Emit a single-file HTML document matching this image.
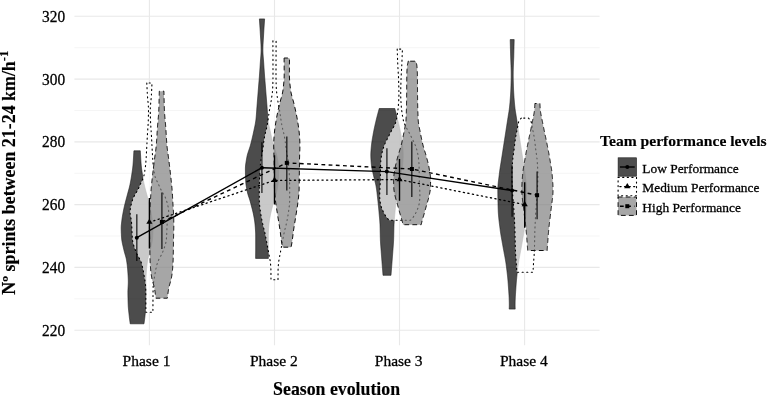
<!DOCTYPE html>
<html><head><meta charset="utf-8"><style>
html,body{margin:0;padding:0;background:#fff;}
body{width:767px;height:397px;overflow:hidden;font-family:"Liberation Serif",serif;}
svg{display:block;will-change:transform;}
</style></head><body>
<svg width="767" height="397" viewBox="0 0 767 397">
<rect width="767" height="397" fill="#fff"/>
<style>text{stroke:#000;stroke-width:0.28px;} text.b{stroke-width:0.15px;}</style>
<line x1="74.4" y1="47.69" x2="599.6" y2="47.69" stroke="#f2f2f2" stroke-width="0.8"/>
<line x1="74.4" y1="110.47" x2="599.6" y2="110.47" stroke="#f2f2f2" stroke-width="0.8"/>
<line x1="74.4" y1="173.25" x2="599.6" y2="173.25" stroke="#f2f2f2" stroke-width="0.8"/>
<line x1="74.4" y1="236.03" x2="599.6" y2="236.03" stroke="#f2f2f2" stroke-width="0.8"/>
<line x1="74.4" y1="298.81" x2="599.6" y2="298.81" stroke="#f2f2f2" stroke-width="0.8"/>
<line x1="74.4" y1="16.30" x2="599.6" y2="16.30" stroke="#e8e8e8" stroke-width="1.1"/>
<line x1="74.4" y1="79.08" x2="599.6" y2="79.08" stroke="#e8e8e8" stroke-width="1.1"/>
<line x1="74.4" y1="141.86" x2="599.6" y2="141.86" stroke="#e8e8e8" stroke-width="1.1"/>
<line x1="74.4" y1="204.64" x2="599.6" y2="204.64" stroke="#e8e8e8" stroke-width="1.1"/>
<line x1="74.4" y1="267.42" x2="599.6" y2="267.42" stroke="#e8e8e8" stroke-width="1.1"/>
<line x1="74.4" y1="330.20" x2="599.6" y2="330.20" stroke="#e8e8e8" stroke-width="1.1"/>
<line x1="149.4" y1="0" x2="149.4" y2="345.3" stroke="#e8e8e8" stroke-width="1.1"/>
<line x1="274.5" y1="0" x2="274.5" y2="345.3" stroke="#e8e8e8" stroke-width="1.1"/>
<line x1="399.5" y1="0" x2="399.5" y2="345.3" stroke="#e8e8e8" stroke-width="1.1"/>
<line x1="524.6" y1="0" x2="524.6" y2="345.3" stroke="#e8e8e8" stroke-width="1.1"/>
<path d="M133.90,150.80 L133.84,151.80 L133.78,152.80 L133.72,153.80 L133.67,154.80 L133.61,155.80 L133.55,156.80 L133.50,157.80 L133.44,158.80 L133.38,159.80 L133.32,160.80 L133.25,161.80 L133.18,162.80 L133.10,163.80 L133.02,164.80 L132.93,165.80 L132.82,166.80 L132.71,167.80 L132.59,168.80 L132.46,169.80 L132.32,170.80 L132.18,171.80 L132.03,172.80 L131.88,173.80 L131.73,174.80 L131.58,175.80 L131.42,176.80 L131.26,177.80 L131.09,178.80 L130.91,179.80 L130.73,180.80 L130.54,181.80 L130.35,182.80 L130.15,183.80 L129.94,184.80 L129.72,185.80 L129.49,186.80 L129.24,187.80 L128.98,188.80 L128.71,189.80 L128.44,190.80 L128.16,191.80 L127.89,192.80 L127.62,193.80 L127.35,194.80 L127.09,195.80 L126.82,196.80 L126.56,197.80 L126.29,198.80 L126.02,199.80 L125.75,200.80 L125.49,201.80 L125.24,202.80 L124.99,203.80 L124.75,204.80 L124.51,205.80 L124.29,206.80 L124.06,207.80 L123.84,208.80 L123.63,209.80 L123.43,210.80 L123.24,211.80 L123.05,212.80 L122.87,213.80 L122.69,214.80 L122.51,215.80 L122.35,216.80 L122.19,217.80 L122.05,218.80 L121.92,219.80 L121.81,220.80 L121.69,221.80 L121.57,222.80 L121.46,223.80 L121.36,224.80 L121.28,225.80 L121.23,226.80 L121.20,227.80 L121.20,228.80 L121.22,229.80 L121.24,230.80 L121.27,231.80 L121.31,232.80 L121.36,233.80 L121.41,234.80 L121.46,235.80 L121.52,236.80 L121.59,237.80 L121.66,238.80 L121.77,239.80 L121.91,240.80 L122.08,241.80 L122.27,242.80 L122.47,243.80 L122.69,244.80 L122.92,245.80 L123.16,246.80 L123.39,247.80 L123.63,248.80 L123.86,249.80 L124.09,250.80 L124.35,251.80 L124.63,252.80 L124.92,253.80 L125.21,254.80 L125.50,255.80 L125.78,256.80 L126.04,257.80 L126.27,258.80 L126.47,259.80 L126.63,260.80 L126.78,261.80 L126.93,262.80 L127.06,263.80 L127.19,264.80 L127.31,265.80 L127.42,266.80 L127.52,267.80 L127.61,268.80 L127.69,269.80 L127.76,270.80 L127.83,271.80 L127.90,272.80 L127.97,273.80 L128.03,274.80 L128.10,275.80 L128.15,276.80 L128.20,277.80 L128.24,278.80 L128.27,279.80 L128.29,280.80 L128.30,281.80 L128.29,282.80 L128.27,283.80 L128.22,284.80 L128.17,285.80 L128.11,286.80 L128.05,287.80 L128.00,288.80 L127.95,289.80 L127.92,290.80 L127.90,291.80 L127.90,292.80 L127.91,293.80 L127.92,294.80 L127.93,295.80 L127.95,296.80 L127.97,297.80 L128.00,298.80 L128.02,299.80 L128.05,300.80 L128.09,301.80 L128.12,302.80 L128.16,303.80 L128.19,304.80 L128.24,305.80 L128.29,306.80 L128.37,307.80 L128.45,308.80 L128.55,309.80 L128.65,310.80 L128.75,311.80 L128.86,312.80 L128.97,313.80 L129.08,314.80 L129.19,315.80 L129.30,316.80 L129.42,317.80 L129.55,318.80 L129.68,319.80 L129.81,320.80 L129.94,321.80 L130.07,322.80 L130.20,323.80 L144.00,323.80 L144.13,322.80 L144.26,321.80 L144.39,320.80 L144.52,319.80 L144.65,318.80 L144.78,317.80 L144.90,316.80 L145.01,315.80 L145.12,314.80 L145.23,313.80 L145.34,312.80 L145.45,311.80 L145.55,310.80 L145.65,309.80 L145.75,308.80 L145.83,307.80 L145.91,306.80 L145.96,305.80 L146.01,304.80 L146.04,303.80 L146.08,302.80 L146.11,301.80 L146.15,300.80 L146.18,299.80 L146.20,298.80 L146.23,297.80 L146.25,296.80 L146.27,295.80 L146.28,294.80 L146.29,293.80 L146.30,292.80 L146.30,291.80 L146.28,290.80 L146.25,289.80 L146.20,288.80 L146.15,287.80 L146.09,286.80 L146.03,285.80 L145.98,284.80 L145.93,283.80 L145.91,282.80 L145.90,281.80 L145.91,280.80 L145.93,279.80 L145.96,278.80 L146.00,277.80 L146.05,276.80 L146.10,275.80 L146.17,274.80 L146.23,273.80 L146.30,272.80 L146.37,271.80 L146.44,270.80 L146.51,269.80 L146.59,268.80 L146.68,267.80 L146.78,266.80 L146.89,265.80 L147.01,264.80 L147.14,263.80 L147.27,262.80 L147.42,261.80 L147.57,260.80 L147.73,259.80 L147.93,258.80 L148.16,257.80 L148.42,256.80 L148.70,255.80 L148.99,254.80 L149.28,253.80 L149.57,252.80 L149.85,251.80 L150.11,250.80 L150.34,249.80 L150.57,248.80 L150.81,247.80 L151.04,246.80 L151.28,245.80 L151.51,244.80 L151.73,243.80 L151.93,242.80 L152.12,241.80 L152.29,240.80 L152.43,239.80 L152.54,238.80 L152.61,237.80 L152.68,236.80 L152.74,235.80 L152.79,234.80 L152.84,233.80 L152.89,232.80 L152.93,231.80 L152.96,230.80 L152.98,229.80 L153.00,228.80 L153.00,227.80 L152.97,226.80 L152.92,225.80 L152.84,224.80 L152.74,223.80 L152.63,222.80 L152.51,221.80 L152.39,220.80 L152.28,219.80 L152.15,218.80 L152.01,217.80 L151.85,216.80 L151.69,215.80 L151.51,214.80 L151.33,213.80 L151.15,212.80 L150.96,211.80 L150.77,210.80 L150.57,209.80 L150.36,208.80 L150.14,207.80 L149.91,206.80 L149.69,205.80 L149.45,204.80 L149.21,203.80 L148.96,202.80 L148.71,201.80 L148.45,200.80 L148.18,199.80 L147.91,198.80 L147.64,197.80 L147.38,196.80 L147.11,195.80 L146.85,194.80 L146.58,193.80 L146.31,192.80 L146.04,191.80 L145.76,190.80 L145.49,189.80 L145.22,188.80 L144.96,187.80 L144.71,186.80 L144.48,185.80 L144.26,184.80 L144.05,183.80 L143.85,182.80 L143.66,181.80 L143.47,180.80 L143.29,179.80 L143.11,178.80 L142.94,177.80 L142.78,176.80 L142.62,175.80 L142.47,174.80 L142.32,173.80 L142.17,172.80 L142.02,171.80 L141.88,170.80 L141.74,169.80 L141.61,168.80 L141.49,167.80 L141.38,166.80 L141.27,165.80 L141.18,164.80 L141.10,163.80 L141.02,162.80 L140.95,161.80 L140.88,160.80 L140.82,159.80 L140.76,158.80 L140.70,157.80 L140.65,156.80 L140.59,155.80 L140.53,154.80 L140.48,153.80 L140.42,152.80 L140.36,151.80 L140.30,150.80 Z" fill="rgba(0,0,0,0.7)" stroke="#1a1a1a" stroke-width="0.6" stroke-linejoin="round"/>
<path d="M146.80,83.00 L146.85,84.00 L146.90,85.00 L146.94,86.00 L146.99,87.00 L147.04,88.00 L147.09,89.00 L147.13,90.00 L147.18,91.00 L147.23,92.00 L147.29,93.00 L147.34,94.00 L147.40,95.00 L147.47,96.00 L147.54,97.00 L147.63,98.00 L147.72,99.00 L147.82,100.00 L147.91,101.00 L148.01,102.00 L148.11,103.00 L148.20,104.00 L148.28,105.00 L148.35,106.00 L148.41,107.00 L148.46,108.00 L148.49,109.00 L148.50,110.00 L148.50,111.00 L148.49,112.00 L148.48,113.00 L148.46,114.00 L148.44,115.00 L148.41,116.00 L148.39,117.00 L148.36,118.00 L148.33,119.00 L148.30,120.00 L148.27,121.00 L148.23,122.00 L148.18,123.00 L148.12,124.00 L148.06,125.00 L148.00,126.00 L147.94,127.00 L147.87,128.00 L147.80,129.00 L147.73,130.00 L147.66,131.00 L147.59,132.00 L147.52,133.00 L147.46,134.00 L147.40,135.00 L147.34,136.00 L147.29,137.00 L147.24,138.00 L147.18,139.00 L147.13,140.00 L147.08,141.00 L147.03,142.00 L146.98,143.00 L146.93,144.00 L146.88,145.00 L146.82,146.00 L146.77,147.00 L146.71,148.00 L146.66,149.00 L146.60,150.00 L146.54,151.00 L146.48,152.00 L146.43,153.00 L146.37,154.00 L146.31,155.00 L146.26,156.00 L146.20,157.00 L146.14,158.00 L146.07,159.00 L146.00,160.00 L145.93,161.00 L145.86,162.00 L145.78,163.00 L145.69,164.00 L145.60,165.00 L145.50,166.00 L145.37,167.00 L145.24,168.00 L145.09,169.00 L144.93,170.00 L144.77,171.00 L144.60,172.00 L144.43,173.00 L144.26,174.00 L144.07,175.00 L143.85,176.00 L143.60,177.00 L143.27,178.00 L142.86,179.00 L142.38,180.00 L141.88,181.00 L141.37,182.00 L140.90,183.00 L140.45,184.00 L140.01,185.00 L139.57,186.00 L139.13,187.00 L138.67,188.00 L138.20,189.00 L137.70,190.00 L137.15,191.00 L136.57,192.00 L135.98,193.00 L135.39,194.00 L134.80,195.00 L134.24,196.00 L133.72,197.00 L133.24,198.00 L132.83,199.00 L132.50,200.00 L132.21,201.00 L131.92,202.00 L131.63,203.00 L131.36,204.00 L131.10,205.00 L130.86,206.00 L130.65,207.00 L130.46,208.00 L130.31,209.00 L130.20,210.00 L130.13,211.00 L130.10,212.00 L130.13,213.00 L130.22,214.00 L130.35,215.00 L130.51,216.00 L130.70,217.00 L130.89,218.00 L131.08,219.00 L131.25,220.00 L131.39,221.00 L131.50,222.00 L131.58,223.00 L131.65,224.00 L131.71,225.00 L131.76,226.00 L131.81,227.00 L131.85,228.00 L131.89,229.00 L131.93,230.00 L131.97,231.00 L132.00,232.00 L132.05,233.00 L132.09,234.00 L132.14,235.00 L132.19,236.00 L132.26,237.00 L132.33,238.00 L132.41,239.00 L132.50,240.00 L132.63,241.00 L132.80,242.00 L133.02,243.00 L133.28,244.00 L133.57,245.00 L133.89,246.00 L134.23,247.00 L134.59,248.00 L134.97,249.00 L135.35,250.00 L135.72,251.00 L136.10,252.00 L136.51,253.00 L136.97,254.00 L137.48,255.00 L138.02,256.00 L138.57,257.00 L139.12,258.00 L139.66,259.00 L140.18,260.00 L140.65,261.00 L141.06,262.00 L141.40,263.00 L141.69,264.00 L141.96,265.00 L142.22,266.00 L142.46,267.00 L142.69,268.00 L142.91,269.00 L143.11,270.00 L143.30,271.00 L143.49,272.00 L143.66,273.00 L143.83,274.00 L144.00,275.00 L144.17,276.00 L144.34,277.00 L144.51,278.00 L144.68,279.00 L144.85,280.00 L145.01,281.00 L145.16,282.00 L145.30,283.00 L145.42,284.00 L145.53,285.00 L145.61,286.00 L145.67,287.00 L145.70,288.00 L145.72,289.00 L145.73,290.00 L145.74,291.00 L145.76,292.00 L145.77,293.00 L145.78,294.00 L145.79,295.00 L145.80,296.00 L145.81,297.00 L145.81,298.00 L145.82,299.00 L145.83,300.00 L145.83,301.00 L145.84,302.00 L145.84,303.00 L145.85,304.00 L145.85,305.00 L145.86,306.00 L145.86,307.00 L145.87,308.00 L145.88,309.00 L145.88,310.00 L145.89,311.00 L145.90,312.00 L145.90,312.30 L152.90,312.30 L152.90,312.00 L152.91,311.00 L152.92,310.00 L152.92,309.00 L152.93,308.00 L152.94,307.00 L152.94,306.00 L152.95,305.00 L152.95,304.00 L152.96,303.00 L152.96,302.00 L152.97,301.00 L152.97,300.00 L152.98,299.00 L152.99,298.00 L152.99,297.00 L153.00,296.00 L153.01,295.00 L153.02,294.00 L153.03,293.00 L153.04,292.00 L153.06,291.00 L153.07,290.00 L153.08,289.00 L153.10,288.00 L153.13,287.00 L153.19,286.00 L153.27,285.00 L153.38,284.00 L153.50,283.00 L153.64,282.00 L153.79,281.00 L153.95,280.00 L154.12,279.00 L154.29,278.00 L154.46,277.00 L154.63,276.00 L154.80,275.00 L154.97,274.00 L155.14,273.00 L155.31,272.00 L155.50,271.00 L155.69,270.00 L155.89,269.00 L156.11,268.00 L156.34,267.00 L156.58,266.00 L156.84,265.00 L157.11,264.00 L157.40,263.00 L157.74,262.00 L158.15,261.00 L158.62,260.00 L159.14,259.00 L159.68,258.00 L160.23,257.00 L160.78,256.00 L161.32,255.00 L161.83,254.00 L162.29,253.00 L162.70,252.00 L163.08,251.00 L163.45,250.00 L163.83,249.00 L164.21,248.00 L164.57,247.00 L164.91,246.00 L165.23,245.00 L165.52,244.00 L165.78,243.00 L166.00,242.00 L166.17,241.00 L166.30,240.00 L166.39,239.00 L166.47,238.00 L166.54,237.00 L166.61,236.00 L166.66,235.00 L166.71,234.00 L166.75,233.00 L166.80,232.00 L166.83,231.00 L166.87,230.00 L166.91,229.00 L166.95,228.00 L166.99,227.00 L167.04,226.00 L167.09,225.00 L167.15,224.00 L167.22,223.00 L167.30,222.00 L167.41,221.00 L167.55,220.00 L167.72,219.00 L167.91,218.00 L168.10,217.00 L168.29,216.00 L168.45,215.00 L168.58,214.00 L168.67,213.00 L168.70,212.00 L168.67,211.00 L168.60,210.00 L168.49,209.00 L168.34,208.00 L168.15,207.00 L167.94,206.00 L167.70,205.00 L167.44,204.00 L167.17,203.00 L166.88,202.00 L166.59,201.00 L166.30,200.00 L165.97,199.00 L165.56,198.00 L165.08,197.00 L164.56,196.00 L164.00,195.00 L163.41,194.00 L162.82,193.00 L162.23,192.00 L161.65,191.00 L161.10,190.00 L160.60,189.00 L160.13,188.00 L159.67,187.00 L159.23,186.00 L158.79,185.00 L158.35,184.00 L157.90,183.00 L157.43,182.00 L156.92,181.00 L156.42,180.00 L155.94,179.00 L155.53,178.00 L155.20,177.00 L154.95,176.00 L154.73,175.00 L154.54,174.00 L154.37,173.00 L154.20,172.00 L154.03,171.00 L153.87,170.00 L153.71,169.00 L153.56,168.00 L153.43,167.00 L153.30,166.00 L153.20,165.00 L153.11,164.00 L153.02,163.00 L152.94,162.00 L152.87,161.00 L152.80,160.00 L152.73,159.00 L152.66,158.00 L152.60,157.00 L152.54,156.00 L152.49,155.00 L152.43,154.00 L152.37,153.00 L152.32,152.00 L152.26,151.00 L152.20,150.00 L152.14,149.00 L152.09,148.00 L152.03,147.00 L151.98,146.00 L151.92,145.00 L151.87,144.00 L151.82,143.00 L151.77,142.00 L151.72,141.00 L151.67,140.00 L151.62,139.00 L151.56,138.00 L151.51,137.00 L151.46,136.00 L151.40,135.00 L151.34,134.00 L151.28,133.00 L151.21,132.00 L151.14,131.00 L151.07,130.00 L151.00,129.00 L150.93,128.00 L150.86,127.00 L150.80,126.00 L150.74,125.00 L150.68,124.00 L150.62,123.00 L150.57,122.00 L150.53,121.00 L150.50,120.00 L150.47,119.00 L150.44,118.00 L150.41,117.00 L150.39,116.00 L150.36,115.00 L150.34,114.00 L150.32,113.00 L150.31,112.00 L150.30,111.00 L150.30,110.00 L150.31,109.00 L150.34,108.00 L150.39,107.00 L150.45,106.00 L150.52,105.00 L150.60,104.00 L150.69,103.00 L150.79,102.00 L150.89,101.00 L150.98,100.00 L151.08,99.00 L151.17,98.00 L151.26,97.00 L151.33,96.00 L151.40,95.00 L151.46,94.00 L151.51,93.00 L151.57,92.00 L151.62,91.00 L151.67,90.00 L151.71,89.00 L151.76,88.00 L151.81,87.00 L151.86,86.00 L151.90,85.00 L151.95,84.00 L152.00,83.00 Z" fill="rgba(255,255,255,0.7)" stroke="#000" stroke-width="1.1" stroke-dasharray="1.1 3.5" stroke-linecap="round" stroke-linejoin="round"/>
<path d="M159.30,91.20 L159.27,92.20 L159.25,93.20 L159.23,94.20 L159.20,95.20 L159.18,96.20 L159.16,97.20 L159.14,98.20 L159.11,99.20 L159.09,100.20 L159.07,101.20 L159.04,102.20 L159.02,103.20 L158.99,104.20 L158.96,105.20 L158.93,106.20 L158.90,107.20 L158.87,108.20 L158.83,109.20 L158.79,110.20 L158.75,111.20 L158.69,112.20 L158.63,113.20 L158.56,114.20 L158.49,115.20 L158.41,116.20 L158.33,117.20 L158.24,118.20 L158.15,119.20 L158.06,120.20 L157.97,121.20 L157.88,122.20 L157.79,123.20 L157.70,124.20 L157.62,125.20 L157.54,126.20 L157.46,127.20 L157.39,128.20 L157.32,129.20 L157.25,130.20 L157.19,131.20 L157.13,132.20 L157.07,133.20 L157.02,134.20 L156.96,135.20 L156.90,136.20 L156.84,137.20 L156.78,138.20 L156.72,139.20 L156.66,140.20 L156.59,141.20 L156.52,142.20 L156.45,143.20 L156.37,144.20 L156.28,145.20 L156.19,146.20 L156.09,147.20 L155.97,148.20 L155.85,149.20 L155.73,150.20 L155.60,151.20 L155.46,152.20 L155.32,153.20 L155.18,154.20 L155.04,155.20 L154.90,156.20 L154.77,157.20 L154.63,158.20 L154.50,159.20 L154.38,160.20 L154.25,161.20 L154.13,162.20 L154.00,163.20 L153.88,164.20 L153.76,165.20 L153.63,166.20 L153.51,167.20 L153.39,168.20 L153.27,169.20 L153.15,170.20 L153.03,171.20 L152.91,172.20 L152.80,173.20 L152.69,174.20 L152.58,175.20 L152.47,176.20 L152.36,177.20 L152.25,178.20 L152.14,179.20 L152.03,180.20 L151.92,181.20 L151.82,182.20 L151.71,183.20 L151.61,184.20 L151.52,185.20 L151.42,186.20 L151.33,187.20 L151.24,188.20 L151.16,189.20 L151.09,190.20 L151.01,191.20 L150.94,192.20 L150.88,193.20 L150.82,194.20 L150.75,195.20 L150.70,196.20 L150.64,197.20 L150.58,198.20 L150.53,199.20 L150.47,200.20 L150.42,201.20 L150.36,202.20 L150.31,203.20 L150.25,204.20 L150.19,205.20 L150.12,206.20 L150.06,207.20 L149.99,208.20 L149.92,209.20 L149.85,210.20 L149.78,211.20 L149.72,212.20 L149.67,213.20 L149.63,214.20 L149.59,215.20 L149.56,216.20 L149.54,217.20 L149.51,218.20 L149.48,219.20 L149.46,220.20 L149.44,221.20 L149.42,222.20 L149.41,223.20 L149.40,224.20 L149.40,225.20 L149.40,226.20 L149.41,227.20 L149.43,228.20 L149.44,229.20 L149.46,230.20 L149.48,231.20 L149.51,232.20 L149.53,233.20 L149.56,234.20 L149.59,235.20 L149.61,236.20 L149.64,237.20 L149.66,238.20 L149.68,239.20 L149.70,240.20 L149.72,241.20 L149.74,242.20 L149.75,243.20 L149.77,244.20 L149.78,245.20 L149.79,246.20 L149.81,247.20 L149.82,248.20 L149.83,249.20 L149.85,250.20 L149.86,251.20 L149.88,252.20 L149.89,253.20 L149.91,254.20 L149.93,255.20 L149.96,256.20 L149.98,257.20 L150.01,258.20 L150.04,259.20 L150.07,260.20 L150.12,261.20 L150.16,262.20 L150.22,263.20 L150.28,264.20 L150.34,265.20 L150.41,266.20 L150.48,267.20 L150.55,268.20 L150.63,269.20 L150.72,270.20 L150.81,271.20 L150.92,272.20 L151.05,273.20 L151.18,274.20 L151.33,275.20 L151.49,276.20 L151.66,277.20 L151.84,278.20 L152.04,279.20 L152.29,280.20 L152.56,281.20 L152.85,282.20 L153.15,283.20 L153.44,284.20 L153.73,285.20 L154.00,286.20 L154.24,287.20 L154.44,288.20 L154.61,289.20 L154.78,290.20 L154.93,291.20 L155.08,292.20 L155.22,293.20 L155.35,294.20 L155.48,295.20 L155.62,296.20 L155.76,297.20 L155.90,298.20 L167.30,298.20 L167.44,297.20 L167.58,296.20 L167.72,295.20 L167.85,294.20 L167.98,293.20 L168.12,292.20 L168.27,291.20 L168.42,290.20 L168.59,289.20 L168.76,288.20 L168.96,287.20 L169.20,286.20 L169.47,285.20 L169.76,284.20 L170.05,283.20 L170.35,282.20 L170.64,281.20 L170.91,280.20 L171.16,279.20 L171.36,278.20 L171.54,277.20 L171.71,276.20 L171.87,275.20 L172.02,274.20 L172.15,273.20 L172.28,272.20 L172.39,271.20 L172.48,270.20 L172.57,269.20 L172.65,268.20 L172.72,267.20 L172.79,266.20 L172.86,265.20 L172.92,264.20 L172.98,263.20 L173.04,262.20 L173.08,261.20 L173.13,260.20 L173.16,259.20 L173.19,258.20 L173.22,257.20 L173.24,256.20 L173.27,255.20 L173.29,254.20 L173.31,253.20 L173.32,252.20 L173.34,251.20 L173.35,250.20 L173.37,249.20 L173.38,248.20 L173.39,247.20 L173.41,246.20 L173.42,245.20 L173.43,244.20 L173.45,243.20 L173.46,242.20 L173.48,241.20 L173.50,240.20 L173.52,239.20 L173.54,238.20 L173.56,237.20 L173.59,236.20 L173.61,235.20 L173.64,234.20 L173.67,233.20 L173.69,232.20 L173.72,231.20 L173.74,230.20 L173.76,229.20 L173.77,228.20 L173.79,227.20 L173.80,226.20 L173.80,225.20 L173.80,224.20 L173.79,223.20 L173.78,222.20 L173.76,221.20 L173.74,220.20 L173.72,219.20 L173.69,218.20 L173.66,217.20 L173.64,216.20 L173.61,215.20 L173.57,214.20 L173.53,213.20 L173.48,212.20 L173.42,211.20 L173.35,210.20 L173.28,209.20 L173.21,208.20 L173.14,207.20 L173.08,206.20 L173.01,205.20 L172.95,204.20 L172.89,203.20 L172.84,202.20 L172.78,201.20 L172.73,200.20 L172.67,199.20 L172.62,198.20 L172.56,197.20 L172.50,196.20 L172.45,195.20 L172.38,194.20 L172.32,193.20 L172.26,192.20 L172.19,191.20 L172.11,190.20 L172.04,189.20 L171.96,188.20 L171.87,187.20 L171.78,186.20 L171.68,185.20 L171.59,184.20 L171.49,183.20 L171.38,182.20 L171.28,181.20 L171.17,180.20 L171.06,179.20 L170.95,178.20 L170.84,177.20 L170.73,176.20 L170.62,175.20 L170.51,174.20 L170.40,173.20 L170.29,172.20 L170.17,171.20 L170.05,170.20 L169.93,169.20 L169.81,168.20 L169.69,167.20 L169.57,166.20 L169.44,165.20 L169.32,164.20 L169.20,163.20 L169.07,162.20 L168.95,161.20 L168.82,160.20 L168.70,159.20 L168.57,158.20 L168.43,157.20 L168.30,156.20 L168.16,155.20 L168.02,154.20 L167.88,153.20 L167.74,152.20 L167.60,151.20 L167.47,150.20 L167.35,149.20 L167.23,148.20 L167.11,147.20 L167.01,146.20 L166.92,145.20 L166.83,144.20 L166.75,143.20 L166.68,142.20 L166.61,141.20 L166.54,140.20 L166.48,139.20 L166.42,138.20 L166.36,137.20 L166.30,136.20 L166.24,135.20 L166.18,134.20 L166.13,133.20 L166.07,132.20 L166.01,131.20 L165.95,130.20 L165.88,129.20 L165.81,128.20 L165.74,127.20 L165.66,126.20 L165.58,125.20 L165.50,124.20 L165.41,123.20 L165.32,122.20 L165.23,121.20 L165.14,120.20 L165.05,119.20 L164.96,118.20 L164.87,117.20 L164.79,116.20 L164.71,115.20 L164.64,114.20 L164.57,113.20 L164.51,112.20 L164.45,111.20 L164.41,110.20 L164.37,109.20 L164.33,108.20 L164.30,107.20 L164.27,106.20 L164.24,105.20 L164.21,104.20 L164.18,103.20 L164.16,102.20 L164.13,101.20 L164.11,100.20 L164.09,99.20 L164.06,98.20 L164.04,97.20 L164.02,96.20 L164.00,95.20 L163.97,94.20 L163.95,93.20 L163.93,92.20 L163.90,91.20 Z" fill="rgba(128,128,128,0.7)" stroke="#111" stroke-width="1" stroke-dasharray="4 4" stroke-linecap="round" stroke-linejoin="round"/>
<path d="M259.40,18.90 L259.46,19.90 L259.53,20.90 L259.60,21.90 L259.66,22.90 L259.73,23.90 L259.80,24.90 L259.86,25.90 L259.93,26.90 L259.99,27.90 L260.06,28.90 L260.12,29.90 L260.18,30.90 L260.24,31.90 L260.29,32.90 L260.35,33.90 L260.41,34.90 L260.47,35.90 L260.53,36.90 L260.60,37.90 L260.66,38.90 L260.72,39.90 L260.78,40.90 L260.84,41.90 L260.89,42.90 L260.94,43.90 L260.99,44.90 L261.02,45.90 L261.06,46.90 L261.08,47.90 L261.09,48.90 L261.10,49.90 L261.09,50.90 L261.07,51.90 L261.03,52.90 L260.98,53.90 L260.92,54.90 L260.85,55.90 L260.77,56.90 L260.69,57.90 L260.61,58.90 L260.53,59.90 L260.45,60.90 L260.38,61.90 L260.31,62.90 L260.24,63.90 L260.18,64.90 L260.11,65.90 L260.05,66.90 L259.99,67.90 L259.92,68.90 L259.85,69.90 L259.79,70.90 L259.72,71.90 L259.65,72.90 L259.58,73.90 L259.51,74.90 L259.43,75.90 L259.36,76.90 L259.28,77.90 L259.20,78.90 L259.12,79.90 L259.04,80.90 L258.95,81.90 L258.87,82.90 L258.79,83.90 L258.71,84.90 L258.63,85.90 L258.55,86.90 L258.47,87.90 L258.39,88.90 L258.31,89.90 L258.23,90.90 L258.15,91.90 L258.07,92.90 L257.99,93.90 L257.91,94.90 L257.83,95.90 L257.75,96.90 L257.67,97.90 L257.59,98.90 L257.51,99.90 L257.43,100.90 L257.35,101.90 L257.27,102.90 L257.19,103.90 L257.11,104.90 L257.03,105.90 L256.96,106.90 L256.88,107.90 L256.81,108.90 L256.75,109.90 L256.68,110.90 L256.61,111.90 L256.54,112.90 L256.46,113.90 L256.38,114.90 L256.30,115.90 L256.22,116.90 L256.12,117.90 L256.02,118.90 L255.91,119.90 L255.79,120.90 L255.64,121.90 L255.48,122.90 L255.31,123.90 L255.12,124.90 L254.92,125.90 L254.71,126.90 L254.49,127.90 L254.27,128.90 L254.06,129.90 L253.84,130.90 L253.62,131.90 L253.41,132.90 L253.19,133.90 L252.97,134.90 L252.74,135.90 L252.51,136.90 L252.28,137.90 L252.04,138.90 L251.80,139.90 L251.55,140.90 L251.30,141.90 L251.05,142.90 L250.79,143.90 L250.53,144.90 L250.25,145.90 L249.94,146.90 L249.62,147.90 L249.28,148.90 L248.94,149.90 L248.60,150.90 L248.26,151.90 L247.94,152.90 L247.64,153.90 L247.36,154.90 L247.12,155.90 L246.92,156.90 L246.74,157.90 L246.56,158.90 L246.39,159.90 L246.21,160.90 L246.05,161.90 L245.90,162.90 L245.76,163.90 L245.64,164.90 L245.54,165.90 L245.47,166.90 L245.42,167.90 L245.40,168.90 L245.40,169.90 L245.41,170.90 L245.42,171.90 L245.44,172.90 L245.46,173.90 L245.48,174.90 L245.51,175.90 L245.54,176.90 L245.58,177.90 L245.61,178.90 L245.65,179.90 L245.70,180.90 L245.75,181.90 L245.83,182.90 L245.94,183.90 L246.06,184.90 L246.21,185.90 L246.37,186.90 L246.55,187.90 L246.74,188.90 L246.94,189.90 L247.15,190.90 L247.36,191.90 L247.58,192.90 L247.82,193.90 L248.11,194.90 L248.43,195.90 L248.77,196.90 L249.12,197.90 L249.46,198.90 L249.77,199.90 L250.06,200.90 L250.34,201.90 L250.62,202.90 L250.89,203.90 L251.16,204.90 L251.42,205.90 L251.67,206.90 L251.93,207.90 L252.19,208.90 L252.44,209.90 L252.69,210.90 L252.93,211.90 L253.16,212.90 L253.38,213.90 L253.58,214.90 L253.77,215.90 L253.96,216.90 L254.14,217.90 L254.31,218.90 L254.48,219.90 L254.63,220.90 L254.77,221.90 L254.89,222.90 L254.99,223.90 L255.08,224.90 L255.16,225.90 L255.25,226.90 L255.33,227.90 L255.40,228.90 L255.47,229.90 L255.54,230.90 L255.59,231.90 L255.64,232.90 L255.67,233.90 L255.69,234.90 L255.70,235.90 L255.70,236.90 L255.70,237.90 L255.70,238.90 L255.70,239.90 L255.70,240.90 L255.70,241.90 L255.70,242.90 L255.70,243.90 L255.70,244.90 L255.70,245.90 L255.70,246.90 L255.70,247.90 L255.70,248.90 L255.69,249.90 L255.69,250.90 L255.68,251.90 L255.67,252.90 L255.65,253.90 L255.64,254.90 L255.63,255.90 L255.62,256.90 L255.61,257.90 L255.60,258.40 L268.40,258.40 L268.39,257.90 L268.38,256.90 L268.37,255.90 L268.36,254.90 L268.35,253.90 L268.33,252.90 L268.32,251.90 L268.31,250.90 L268.31,249.90 L268.30,248.90 L268.30,247.90 L268.30,246.90 L268.30,245.90 L268.30,244.90 L268.30,243.90 L268.30,242.90 L268.30,241.90 L268.30,240.90 L268.30,239.90 L268.30,238.90 L268.30,237.90 L268.30,236.90 L268.30,235.90 L268.31,234.90 L268.33,233.90 L268.36,232.90 L268.41,231.90 L268.46,230.90 L268.53,229.90 L268.60,228.90 L268.67,227.90 L268.75,226.90 L268.84,225.90 L268.92,224.90 L269.01,223.90 L269.11,222.90 L269.23,221.90 L269.37,220.90 L269.52,219.90 L269.69,218.90 L269.86,217.90 L270.04,216.90 L270.23,215.90 L270.42,214.90 L270.62,213.90 L270.84,212.90 L271.07,211.90 L271.31,210.90 L271.56,209.90 L271.81,208.90 L272.07,207.90 L272.33,206.90 L272.58,205.90 L272.84,204.90 L273.11,203.90 L273.38,202.90 L273.66,201.90 L273.94,200.90 L274.23,199.90 L274.54,198.90 L274.88,197.90 L275.23,196.90 L275.57,195.90 L275.89,194.90 L276.18,193.90 L276.42,192.90 L276.64,191.90 L276.85,190.90 L277.06,189.90 L277.26,188.90 L277.45,187.90 L277.63,186.90 L277.79,185.90 L277.94,184.90 L278.06,183.90 L278.17,182.90 L278.25,181.90 L278.30,180.90 L278.35,179.90 L278.39,178.90 L278.42,177.90 L278.46,176.90 L278.49,175.90 L278.52,174.90 L278.54,173.90 L278.56,172.90 L278.58,171.90 L278.59,170.90 L278.60,169.90 L278.60,168.90 L278.58,167.90 L278.53,166.90 L278.46,165.90 L278.36,164.90 L278.24,163.90 L278.10,162.90 L277.95,161.90 L277.79,160.90 L277.61,159.90 L277.44,158.90 L277.26,157.90 L277.08,156.90 L276.88,155.90 L276.64,154.90 L276.36,153.90 L276.06,152.90 L275.74,151.90 L275.40,150.90 L275.06,149.90 L274.72,148.90 L274.38,147.90 L274.06,146.90 L273.75,145.90 L273.47,144.90 L273.21,143.90 L272.95,142.90 L272.70,141.90 L272.45,140.90 L272.20,139.90 L271.96,138.90 L271.72,137.90 L271.49,136.90 L271.26,135.90 L271.03,134.90 L270.81,133.90 L270.59,132.90 L270.38,131.90 L270.16,130.90 L269.94,129.90 L269.73,128.90 L269.51,127.90 L269.29,126.90 L269.08,125.90 L268.88,124.90 L268.69,123.90 L268.52,122.90 L268.36,121.90 L268.21,120.90 L268.09,119.90 L267.98,118.90 L267.88,117.90 L267.78,116.90 L267.70,115.90 L267.62,114.90 L267.54,113.90 L267.46,112.90 L267.39,111.90 L267.32,110.90 L267.25,109.90 L267.19,108.90 L267.12,107.90 L267.04,106.90 L266.97,105.90 L266.89,104.90 L266.81,103.90 L266.73,102.90 L266.65,101.90 L266.57,100.90 L266.49,99.90 L266.41,98.90 L266.33,97.90 L266.25,96.90 L266.17,95.90 L266.09,94.90 L266.01,93.90 L265.93,92.90 L265.85,91.90 L265.77,90.90 L265.69,89.90 L265.61,88.90 L265.53,87.90 L265.45,86.90 L265.37,85.90 L265.29,84.90 L265.21,83.90 L265.13,82.90 L265.05,81.90 L264.96,80.90 L264.88,79.90 L264.80,78.90 L264.72,77.90 L264.64,76.90 L264.57,75.90 L264.49,74.90 L264.42,73.90 L264.35,72.90 L264.28,71.90 L264.21,70.90 L264.15,69.90 L264.08,68.90 L264.01,67.90 L263.95,66.90 L263.89,65.90 L263.82,64.90 L263.76,63.90 L263.69,62.90 L263.62,61.90 L263.55,60.90 L263.47,59.90 L263.39,58.90 L263.31,57.90 L263.23,56.90 L263.15,55.90 L263.08,54.90 L263.02,53.90 L262.97,52.90 L262.93,51.90 L262.91,50.90 L262.90,49.90 L262.91,48.90 L262.92,47.90 L262.94,46.90 L262.98,45.90 L263.01,44.90 L263.06,43.90 L263.11,42.90 L263.16,41.90 L263.22,40.90 L263.28,39.90 L263.34,38.90 L263.40,37.90 L263.47,36.90 L263.53,35.90 L263.59,34.90 L263.65,33.90 L263.71,32.90 L263.76,31.90 L263.82,30.90 L263.88,29.90 L263.94,28.90 L264.01,27.90 L264.07,26.90 L264.14,25.90 L264.20,24.90 L264.27,23.90 L264.34,22.90 L264.40,21.90 L264.47,20.90 L264.54,19.90 L264.60,18.90 Z" fill="rgba(0,0,0,0.7)" stroke="#1a1a1a" stroke-width="0.6" stroke-linejoin="round"/>
<path d="M272.90,40.90 L272.90,41.90 L272.91,42.90 L272.91,43.90 L272.91,44.90 L272.92,45.90 L272.92,46.90 L272.92,47.90 L272.93,48.90 L272.93,49.90 L272.94,50.90 L272.94,51.90 L272.94,52.90 L272.95,53.90 L272.95,54.90 L272.95,55.90 L272.96,56.90 L272.96,57.90 L272.97,58.90 L272.97,59.90 L272.97,60.90 L272.98,61.90 L272.98,62.90 L272.98,63.90 L272.99,64.90 L272.99,65.90 L272.99,66.90 L272.99,67.90 L272.99,68.90 L273.00,69.90 L273.00,70.90 L273.00,71.90 L273.00,72.90 L273.00,73.90 L273.00,74.90 L273.00,75.90 L272.99,76.90 L272.98,77.90 L272.97,78.90 L272.95,79.90 L272.93,80.90 L272.90,81.90 L272.88,82.90 L272.85,83.90 L272.81,84.90 L272.78,85.90 L272.74,86.90 L272.70,87.90 L272.66,88.90 L272.59,89.90 L272.51,90.90 L272.41,91.90 L272.29,92.90 L272.17,93.90 L272.04,94.90 L271.90,95.90 L271.75,96.90 L271.61,97.90 L271.46,98.90 L271.31,99.90 L271.16,100.90 L271.00,101.90 L270.82,102.90 L270.64,103.90 L270.45,104.90 L270.26,105.90 L270.06,106.90 L269.87,107.90 L269.69,108.90 L269.52,109.90 L269.35,110.90 L269.20,111.90 L269.04,112.90 L268.90,113.90 L268.75,114.90 L268.61,115.90 L268.47,116.90 L268.32,117.90 L268.18,118.90 L268.03,119.90 L267.88,120.90 L267.73,121.90 L267.56,122.90 L267.40,123.90 L267.22,124.90 L267.03,125.90 L266.82,126.90 L266.60,127.90 L266.36,128.90 L266.12,129.90 L265.87,130.90 L265.62,131.90 L265.38,132.90 L265.14,133.90 L264.91,134.90 L264.70,135.90 L264.50,136.90 L264.32,137.90 L264.16,138.90 L264.01,139.90 L263.87,140.90 L263.74,141.90 L263.61,142.90 L263.49,143.90 L263.37,144.90 L263.25,145.90 L263.13,146.90 L263.00,147.90 L262.86,148.90 L262.72,149.90 L262.55,150.90 L262.37,151.90 L262.18,152.90 L261.97,153.90 L261.77,154.90 L261.57,155.90 L261.38,156.90 L261.20,157.90 L261.04,158.90 L260.91,159.90 L260.80,160.90 L260.69,161.90 L260.59,162.90 L260.49,163.90 L260.39,164.90 L260.30,165.90 L260.21,166.90 L260.13,167.90 L260.05,168.90 L259.98,169.90 L259.91,170.90 L259.85,171.90 L259.80,172.90 L259.75,173.90 L259.70,174.90 L259.66,175.90 L259.62,176.90 L259.59,177.90 L259.55,178.90 L259.51,179.90 L259.48,180.90 L259.44,181.90 L259.41,182.90 L259.39,183.90 L259.36,184.90 L259.34,185.90 L259.32,186.90 L259.31,187.90 L259.30,188.90 L259.30,189.90 L259.30,190.90 L259.30,191.90 L259.30,192.90 L259.30,193.90 L259.30,194.90 L259.30,195.90 L259.30,196.90 L259.30,197.90 L259.30,198.90 L259.30,199.90 L259.31,200.90 L259.35,201.90 L259.41,202.90 L259.49,203.90 L259.58,204.90 L259.69,205.90 L259.82,206.90 L259.95,207.90 L260.08,208.90 L260.22,209.90 L260.35,210.90 L260.49,211.90 L260.62,212.90 L260.77,213.90 L260.93,214.90 L261.10,215.90 L261.27,216.90 L261.46,217.90 L261.65,218.90 L261.85,219.90 L262.05,220.90 L262.26,221.90 L262.47,222.90 L262.68,223.90 L262.90,224.90 L263.13,225.90 L263.38,226.90 L263.64,227.90 L263.90,228.90 L264.16,229.90 L264.41,230.90 L264.65,231.90 L264.88,232.90 L265.09,233.90 L265.30,234.90 L265.50,235.90 L265.69,236.90 L265.88,237.90 L266.07,238.90 L266.26,239.90 L266.44,240.90 L266.62,241.90 L266.81,242.90 L266.99,243.90 L267.18,244.90 L267.37,245.90 L267.56,246.90 L267.75,247.90 L267.95,248.90 L268.14,249.90 L268.33,250.90 L268.51,251.90 L268.70,252.90 L268.88,253.90 L269.07,254.90 L269.26,255.90 L269.46,256.90 L269.65,257.90 L269.83,258.90 L270.00,259.90 L270.16,260.90 L270.29,261.90 L270.40,262.90 L270.52,263.90 L270.62,264.90 L270.72,265.90 L270.80,266.90 L270.86,267.90 L270.90,268.90 L270.91,269.90 L270.93,270.90 L270.94,271.90 L270.95,272.90 L270.96,273.90 L270.96,274.90 L270.97,275.90 L270.98,276.90 L270.98,277.90 L270.99,278.90 L271.00,279.80 L278.00,279.80 L278.01,278.90 L278.02,277.90 L278.02,276.90 L278.03,275.90 L278.04,274.90 L278.04,273.90 L278.05,272.90 L278.06,271.90 L278.07,270.90 L278.09,269.90 L278.10,268.90 L278.14,267.90 L278.20,266.90 L278.28,265.90 L278.38,264.90 L278.48,263.90 L278.60,262.90 L278.71,261.90 L278.84,260.90 L279.00,259.90 L279.17,258.90 L279.35,257.90 L279.54,256.90 L279.74,255.90 L279.93,254.90 L280.12,253.90 L280.30,252.90 L280.49,251.90 L280.67,250.90 L280.86,249.90 L281.05,248.90 L281.25,247.90 L281.44,246.90 L281.63,245.90 L281.82,244.90 L282.01,243.90 L282.19,242.90 L282.38,241.90 L282.56,240.90 L282.74,239.90 L282.93,238.90 L283.12,237.90 L283.31,236.90 L283.50,235.90 L283.70,234.90 L283.91,233.90 L284.12,232.90 L284.35,231.90 L284.59,230.90 L284.84,229.90 L285.10,228.90 L285.36,227.90 L285.62,226.90 L285.87,225.90 L286.10,224.90 L286.32,223.90 L286.53,222.90 L286.74,221.90 L286.95,220.90 L287.15,219.90 L287.35,218.90 L287.54,217.90 L287.73,216.90 L287.90,215.90 L288.07,214.90 L288.23,213.90 L288.38,212.90 L288.51,211.90 L288.65,210.90 L288.78,209.90 L288.92,208.90 L289.05,207.90 L289.18,206.90 L289.31,205.90 L289.42,204.90 L289.51,203.90 L289.59,202.90 L289.65,201.90 L289.69,200.90 L289.70,199.90 L289.70,198.90 L289.70,197.90 L289.70,196.90 L289.70,195.90 L289.70,194.90 L289.70,193.90 L289.70,192.90 L289.70,191.90 L289.70,190.90 L289.70,189.90 L289.70,188.90 L289.69,187.90 L289.68,186.90 L289.66,185.90 L289.64,184.90 L289.61,183.90 L289.59,182.90 L289.56,181.90 L289.52,180.90 L289.49,179.90 L289.45,178.90 L289.41,177.90 L289.38,176.90 L289.34,175.90 L289.30,174.90 L289.25,173.90 L289.20,172.90 L289.15,171.90 L289.09,170.90 L289.02,169.90 L288.95,168.90 L288.87,167.90 L288.79,166.90 L288.70,165.90 L288.61,164.90 L288.51,163.90 L288.41,162.90 L288.31,161.90 L288.20,160.90 L288.09,159.90 L287.96,158.90 L287.80,157.90 L287.62,156.90 L287.43,155.90 L287.23,154.90 L287.03,153.90 L286.82,152.90 L286.63,151.90 L286.45,150.90 L286.28,149.90 L286.14,148.90 L286.00,147.90 L285.87,146.90 L285.75,145.90 L285.63,144.90 L285.51,143.90 L285.39,142.90 L285.26,141.90 L285.13,140.90 L284.99,139.90 L284.84,138.90 L284.68,137.90 L284.50,136.90 L284.30,135.90 L284.09,134.90 L283.86,133.90 L283.62,132.90 L283.38,131.90 L283.13,130.90 L282.88,129.90 L282.64,128.90 L282.40,127.90 L282.18,126.90 L281.97,125.90 L281.78,124.90 L281.60,123.90 L281.44,122.90 L281.27,121.90 L281.12,120.90 L280.97,119.90 L280.82,118.90 L280.68,117.90 L280.53,116.90 L280.39,115.90 L280.25,114.90 L280.10,113.90 L279.96,112.90 L279.80,111.90 L279.65,110.90 L279.48,109.90 L279.31,108.90 L279.13,107.90 L278.94,106.90 L278.74,105.90 L278.55,104.90 L278.36,103.90 L278.18,102.90 L278.00,101.90 L277.84,100.90 L277.69,99.90 L277.54,98.90 L277.39,97.90 L277.25,96.90 L277.10,95.90 L276.96,94.90 L276.83,93.90 L276.71,92.90 L276.59,91.90 L276.49,90.90 L276.41,89.90 L276.34,88.90 L276.30,87.90 L276.26,86.90 L276.22,85.90 L276.19,84.90 L276.15,83.90 L276.12,82.90 L276.10,81.90 L276.07,80.90 L276.05,79.90 L276.03,78.90 L276.02,77.90 L276.01,76.90 L276.00,75.90 L276.00,74.90 L276.00,73.90 L276.00,72.90 L276.00,71.90 L276.00,70.90 L276.00,69.90 L276.01,68.90 L276.01,67.90 L276.01,66.90 L276.01,65.90 L276.01,64.90 L276.02,63.90 L276.02,62.90 L276.02,61.90 L276.03,60.90 L276.03,59.90 L276.03,58.90 L276.04,57.90 L276.04,56.90 L276.05,55.90 L276.05,54.90 L276.05,53.90 L276.06,52.90 L276.06,51.90 L276.06,50.90 L276.07,49.90 L276.07,48.90 L276.08,47.90 L276.08,46.90 L276.08,45.90 L276.09,44.90 L276.09,43.90 L276.09,42.90 L276.10,41.90 L276.10,40.90 Z" fill="rgba(255,255,255,0.7)" stroke="#000" stroke-width="1.1" stroke-dasharray="1.1 3.5" stroke-linecap="round" stroke-linejoin="round"/>
<path d="M284.10,58.00 L284.11,59.00 L284.11,60.00 L284.12,61.00 L284.13,62.00 L284.14,63.00 L284.14,64.00 L284.15,65.00 L284.16,66.00 L284.17,67.00 L284.17,68.00 L284.18,69.00 L284.19,70.00 L284.19,71.00 L284.19,72.00 L284.20,73.00 L284.20,74.00 L284.20,75.00 L284.19,76.00 L284.17,77.00 L284.13,78.00 L284.08,79.00 L284.02,80.00 L283.95,81.00 L283.87,82.00 L283.78,83.00 L283.68,84.00 L283.58,85.00 L283.47,86.00 L283.36,87.00 L283.24,88.00 L283.12,89.00 L283.00,90.00 L282.86,91.00 L282.69,92.00 L282.49,93.00 L282.27,94.00 L282.02,95.00 L281.76,96.00 L281.49,97.00 L281.20,98.00 L280.91,99.00 L280.62,100.00 L280.34,101.00 L280.06,102.00 L279.79,103.00 L279.54,104.00 L279.30,105.00 L279.07,106.00 L278.85,107.00 L278.62,108.00 L278.40,109.00 L278.18,110.00 L277.96,111.00 L277.74,112.00 L277.53,113.00 L277.32,114.00 L277.11,115.00 L276.92,116.00 L276.73,117.00 L276.54,118.00 L276.37,119.00 L276.20,120.00 L276.04,121.00 L275.88,122.00 L275.71,123.00 L275.56,124.00 L275.40,125.00 L275.25,126.00 L275.10,127.00 L274.96,128.00 L274.82,129.00 L274.70,130.00 L274.58,131.00 L274.47,132.00 L274.37,133.00 L274.28,134.00 L274.20,135.00 L274.13,136.00 L274.06,137.00 L273.99,138.00 L273.92,139.00 L273.86,140.00 L273.81,141.00 L273.76,142.00 L273.73,143.00 L273.71,144.00 L273.70,145.00 L273.70,146.00 L273.72,147.00 L273.73,148.00 L273.76,149.00 L273.78,150.00 L273.82,151.00 L273.85,152.00 L273.88,153.00 L273.92,154.00 L273.96,155.00 L273.99,156.00 L274.02,157.00 L274.05,158.00 L274.08,159.00 L274.10,160.00 L274.12,161.00 L274.13,162.00 L274.15,163.00 L274.16,164.00 L274.18,165.00 L274.19,166.00 L274.20,167.00 L274.21,168.00 L274.23,169.00 L274.24,170.00 L274.25,171.00 L274.26,172.00 L274.27,173.00 L274.29,174.00 L274.30,175.00 L274.31,176.00 L274.32,177.00 L274.33,178.00 L274.34,179.00 L274.35,180.00 L274.36,181.00 L274.37,182.00 L274.38,183.00 L274.40,184.00 L274.41,185.00 L274.42,186.00 L274.44,187.00 L274.46,188.00 L274.48,189.00 L274.50,190.00 L274.54,191.00 L274.59,192.00 L274.66,193.00 L274.75,194.00 L274.84,195.00 L274.95,196.00 L275.06,197.00 L275.17,198.00 L275.29,199.00 L275.40,200.00 L275.51,201.00 L275.64,202.00 L275.77,203.00 L275.90,204.00 L276.04,205.00 L276.19,206.00 L276.34,207.00 L276.50,208.00 L276.65,209.00 L276.81,210.00 L276.97,211.00 L277.13,212.00 L277.29,213.00 L277.45,214.00 L277.60,215.00 L277.75,216.00 L277.91,217.00 L278.07,218.00 L278.24,219.00 L278.40,220.00 L278.56,221.00 L278.73,222.00 L278.89,223.00 L279.06,224.00 L279.22,225.00 L279.38,226.00 L279.54,227.00 L279.70,228.00 L279.85,229.00 L280.00,230.00 L280.14,231.00 L280.28,232.00 L280.41,233.00 L280.53,234.00 L280.65,235.00 L280.78,236.00 L280.90,237.00 L281.02,238.00 L281.15,239.00 L281.28,240.00 L281.42,241.00 L281.57,242.00 L281.73,243.00 L281.90,244.00 L282.10,245.00 L282.33,246.00 L282.56,247.00 L282.60,247.20 L291.00,247.20 L291.04,247.00 L291.27,246.00 L291.50,245.00 L291.70,244.00 L291.87,243.00 L292.03,242.00 L292.18,241.00 L292.32,240.00 L292.45,239.00 L292.58,238.00 L292.70,237.00 L292.82,236.00 L292.95,235.00 L293.07,234.00 L293.19,233.00 L293.32,232.00 L293.46,231.00 L293.60,230.00 L293.75,229.00 L293.90,228.00 L294.06,227.00 L294.22,226.00 L294.38,225.00 L294.54,224.00 L294.71,223.00 L294.87,222.00 L295.04,221.00 L295.20,220.00 L295.36,219.00 L295.53,218.00 L295.69,217.00 L295.85,216.00 L296.00,215.00 L296.15,214.00 L296.31,213.00 L296.47,212.00 L296.63,211.00 L296.79,210.00 L296.95,209.00 L297.10,208.00 L297.26,207.00 L297.41,206.00 L297.56,205.00 L297.70,204.00 L297.83,203.00 L297.96,202.00 L298.09,201.00 L298.20,200.00 L298.31,199.00 L298.43,198.00 L298.54,197.00 L298.65,196.00 L298.76,195.00 L298.85,194.00 L298.94,193.00 L299.01,192.00 L299.06,191.00 L299.10,190.00 L299.12,189.00 L299.14,188.00 L299.16,187.00 L299.18,186.00 L299.19,185.00 L299.20,184.00 L299.22,183.00 L299.23,182.00 L299.24,181.00 L299.25,180.00 L299.26,179.00 L299.27,178.00 L299.28,177.00 L299.29,176.00 L299.30,175.00 L299.31,174.00 L299.33,173.00 L299.34,172.00 L299.35,171.00 L299.36,170.00 L299.37,169.00 L299.39,168.00 L299.40,167.00 L299.41,166.00 L299.42,165.00 L299.44,164.00 L299.45,163.00 L299.47,162.00 L299.48,161.00 L299.50,160.00 L299.52,159.00 L299.55,158.00 L299.58,157.00 L299.61,156.00 L299.64,155.00 L299.68,154.00 L299.72,153.00 L299.75,152.00 L299.78,151.00 L299.82,150.00 L299.84,149.00 L299.87,148.00 L299.88,147.00 L299.90,146.00 L299.90,145.00 L299.89,144.00 L299.87,143.00 L299.84,142.00 L299.79,141.00 L299.74,140.00 L299.68,139.00 L299.61,138.00 L299.54,137.00 L299.47,136.00 L299.40,135.00 L299.32,134.00 L299.23,133.00 L299.13,132.00 L299.02,131.00 L298.90,130.00 L298.78,129.00 L298.64,128.00 L298.50,127.00 L298.35,126.00 L298.20,125.00 L298.04,124.00 L297.89,123.00 L297.72,122.00 L297.56,121.00 L297.40,120.00 L297.23,119.00 L297.06,118.00 L296.87,117.00 L296.68,116.00 L296.49,115.00 L296.28,114.00 L296.07,113.00 L295.86,112.00 L295.64,111.00 L295.42,110.00 L295.20,109.00 L294.98,108.00 L294.75,107.00 L294.53,106.00 L294.30,105.00 L294.06,104.00 L293.81,103.00 L293.54,102.00 L293.26,101.00 L292.98,100.00 L292.69,99.00 L292.40,98.00 L292.11,97.00 L291.84,96.00 L291.58,95.00 L291.33,94.00 L291.11,93.00 L290.91,92.00 L290.74,91.00 L290.60,90.00 L290.48,89.00 L290.36,88.00 L290.24,87.00 L290.13,86.00 L290.02,85.00 L289.92,84.00 L289.82,83.00 L289.73,82.00 L289.65,81.00 L289.58,80.00 L289.52,79.00 L289.47,78.00 L289.43,77.00 L289.41,76.00 L289.40,75.00 L289.40,74.00 L289.40,73.00 L289.41,72.00 L289.41,71.00 L289.41,70.00 L289.42,69.00 L289.43,68.00 L289.43,67.00 L289.44,66.00 L289.45,65.00 L289.46,64.00 L289.46,63.00 L289.47,62.00 L289.48,61.00 L289.49,60.00 L289.49,59.00 L289.50,58.00 Z" fill="rgba(128,128,128,0.7)" stroke="#111" stroke-width="1" stroke-dasharray="4 4" stroke-linecap="round" stroke-linejoin="round"/>
<path d="M379.20,108.50 L378.94,109.50 L378.67,110.50 L378.40,111.50 L378.13,112.50 L377.87,113.50 L377.60,114.50 L377.33,115.50 L377.07,116.50 L376.81,117.50 L376.56,118.50 L376.32,119.50 L376.08,120.50 L375.85,121.50 L375.61,122.50 L375.38,123.50 L375.15,124.50 L374.93,125.50 L374.70,126.50 L374.49,127.50 L374.27,128.50 L374.06,129.50 L373.86,130.50 L373.66,131.50 L373.47,132.50 L373.29,133.50 L373.11,134.50 L372.94,135.50 L372.76,136.50 L372.59,137.50 L372.42,138.50 L372.25,139.50 L372.09,140.50 L371.94,141.50 L371.80,142.50 L371.67,143.50 L371.55,144.50 L371.45,145.50 L371.35,146.50 L371.26,147.50 L371.17,148.50 L371.08,149.50 L371.00,150.50 L370.93,151.50 L370.87,152.50 L370.83,153.50 L370.80,154.50 L370.80,155.50 L370.82,156.50 L370.85,157.50 L370.90,158.50 L370.95,159.50 L371.02,160.50 L371.09,161.50 L371.18,162.50 L371.26,163.50 L371.35,164.50 L371.45,165.50 L371.58,166.50 L371.74,167.50 L371.93,168.50 L372.14,169.50 L372.36,170.50 L372.59,171.50 L372.83,172.50 L373.06,173.50 L373.29,174.50 L373.51,175.50 L373.74,176.50 L373.98,177.50 L374.24,178.50 L374.49,179.50 L374.75,180.50 L375.01,181.50 L375.26,182.50 L375.50,183.50 L375.72,184.50 L375.93,185.50 L376.12,186.50 L376.28,187.50 L376.43,188.50 L376.58,189.50 L376.71,190.50 L376.84,191.50 L376.97,192.50 L377.08,193.50 L377.20,194.50 L377.31,195.50 L377.42,196.50 L377.53,197.50 L377.64,198.50 L377.75,199.50 L377.85,200.50 L377.96,201.50 L378.07,202.50 L378.18,203.50 L378.28,204.50 L378.38,205.50 L378.48,206.50 L378.58,207.50 L378.68,208.50 L378.77,209.50 L378.87,210.50 L378.96,211.50 L379.04,212.50 L379.13,213.50 L379.22,214.50 L379.31,215.50 L379.40,216.50 L379.49,217.50 L379.58,218.50 L379.66,219.50 L379.74,220.50 L379.81,221.50 L379.87,222.50 L379.93,223.50 L379.98,224.50 L380.02,225.50 L380.05,226.50 L380.09,227.50 L380.11,228.50 L380.14,229.50 L380.16,230.50 L380.18,231.50 L380.20,232.50 L380.22,233.50 L380.24,234.50 L380.27,235.50 L380.29,236.50 L380.32,237.50 L380.35,238.50 L380.38,239.50 L380.42,240.50 L380.47,241.50 L380.52,242.50 L380.58,243.50 L380.65,244.50 L380.72,245.50 L380.80,246.50 L380.87,247.50 L380.95,248.50 L381.03,249.50 L381.11,250.50 L381.19,251.50 L381.26,252.50 L381.34,253.50 L381.41,254.50 L381.48,255.50 L381.56,256.50 L381.63,257.50 L381.71,258.50 L381.78,259.50 L381.86,260.50 L381.94,261.50 L382.01,262.50 L382.09,263.50 L382.17,264.50 L382.24,265.50 L382.32,266.50 L382.40,267.50 L382.48,268.50 L382.55,269.50 L382.63,270.50 L382.71,271.50 L382.79,272.50 L382.86,273.50 L382.94,274.50 L383.00,275.30 L391.00,275.30 L391.06,274.50 L391.14,273.50 L391.21,272.50 L391.29,271.50 L391.37,270.50 L391.45,269.50 L391.52,268.50 L391.60,267.50 L391.68,266.50 L391.76,265.50 L391.83,264.50 L391.91,263.50 L391.99,262.50 L392.06,261.50 L392.14,260.50 L392.22,259.50 L392.29,258.50 L392.37,257.50 L392.44,256.50 L392.52,255.50 L392.59,254.50 L392.66,253.50 L392.74,252.50 L392.81,251.50 L392.89,250.50 L392.97,249.50 L393.05,248.50 L393.13,247.50 L393.20,246.50 L393.28,245.50 L393.35,244.50 L393.42,243.50 L393.48,242.50 L393.53,241.50 L393.58,240.50 L393.62,239.50 L393.65,238.50 L393.68,237.50 L393.71,236.50 L393.73,235.50 L393.76,234.50 L393.78,233.50 L393.80,232.50 L393.82,231.50 L393.84,230.50 L393.86,229.50 L393.89,228.50 L393.91,227.50 L393.95,226.50 L393.98,225.50 L394.02,224.50 L394.07,223.50 L394.13,222.50 L394.19,221.50 L394.26,220.50 L394.34,219.50 L394.42,218.50 L394.51,217.50 L394.60,216.50 L394.69,215.50 L394.78,214.50 L394.87,213.50 L394.96,212.50 L395.04,211.50 L395.13,210.50 L395.23,209.50 L395.32,208.50 L395.42,207.50 L395.52,206.50 L395.62,205.50 L395.72,204.50 L395.82,203.50 L395.93,202.50 L396.04,201.50 L396.15,200.50 L396.25,199.50 L396.36,198.50 L396.47,197.50 L396.58,196.50 L396.69,195.50 L396.80,194.50 L396.92,193.50 L397.03,192.50 L397.16,191.50 L397.29,190.50 L397.42,189.50 L397.57,188.50 L397.72,187.50 L397.88,186.50 L398.07,185.50 L398.28,184.50 L398.50,183.50 L398.74,182.50 L398.99,181.50 L399.25,180.50 L399.51,179.50 L399.76,178.50 L400.02,177.50 L400.26,176.50 L400.49,175.50 L400.71,174.50 L400.94,173.50 L401.17,172.50 L401.41,171.50 L401.64,170.50 L401.86,169.50 L402.07,168.50 L402.26,167.50 L402.42,166.50 L402.55,165.50 L402.65,164.50 L402.74,163.50 L402.82,162.50 L402.91,161.50 L402.98,160.50 L403.05,159.50 L403.10,158.50 L403.15,157.50 L403.18,156.50 L403.20,155.50 L403.20,154.50 L403.17,153.50 L403.13,152.50 L403.07,151.50 L403.00,150.50 L402.92,149.50 L402.83,148.50 L402.74,147.50 L402.65,146.50 L402.55,145.50 L402.45,144.50 L402.33,143.50 L402.20,142.50 L402.06,141.50 L401.91,140.50 L401.75,139.50 L401.58,138.50 L401.41,137.50 L401.24,136.50 L401.06,135.50 L400.89,134.50 L400.71,133.50 L400.53,132.50 L400.34,131.50 L400.14,130.50 L399.94,129.50 L399.73,128.50 L399.51,127.50 L399.30,126.50 L399.07,125.50 L398.85,124.50 L398.62,123.50 L398.39,122.50 L398.15,121.50 L397.92,120.50 L397.68,119.50 L397.44,118.50 L397.19,117.50 L396.93,116.50 L396.67,115.50 L396.40,114.50 L396.13,113.50 L395.87,112.50 L395.60,111.50 L395.33,110.50 L395.06,109.50 L394.80,108.50 Z" fill="rgba(0,0,0,0.7)" stroke="#1a1a1a" stroke-width="0.6" stroke-linejoin="round"/>
<path d="M397.20,49.10 L397.24,50.10 L397.27,51.10 L397.31,52.10 L397.35,53.10 L397.38,54.10 L397.42,55.10 L397.45,56.10 L397.49,57.10 L397.53,58.10 L397.56,59.10 L397.60,60.10 L397.64,61.10 L397.68,62.10 L397.72,63.10 L397.76,64.10 L397.80,65.10 L397.85,66.10 L397.90,67.10 L397.96,68.10 L398.02,69.10 L398.08,70.10 L398.14,71.10 L398.20,72.10 L398.27,73.10 L398.33,74.10 L398.38,75.10 L398.44,76.10 L398.49,77.10 L398.53,78.10 L398.57,79.10 L398.60,80.10 L398.63,81.10 L398.66,82.10 L398.69,83.10 L398.72,84.10 L398.75,85.10 L398.77,86.10 L398.80,87.10 L398.82,88.10 L398.84,89.10 L398.86,90.10 L398.87,91.10 L398.88,92.10 L398.89,93.10 L398.90,94.10 L398.90,95.10 L398.89,96.10 L398.87,97.10 L398.83,98.10 L398.78,99.10 L398.73,100.10 L398.67,101.10 L398.60,102.10 L398.53,103.10 L398.46,104.10 L398.39,105.10 L398.32,106.10 L398.23,107.10 L398.14,108.10 L398.04,109.10 L397.93,110.10 L397.81,111.10 L397.69,112.10 L397.55,113.10 L397.40,114.10 L397.24,115.10 L397.06,116.10 L396.88,117.10 L396.70,118.10 L396.50,119.10 L396.29,120.10 L396.05,121.10 L395.77,122.10 L395.42,123.10 L395.01,124.10 L394.54,125.10 L394.05,126.10 L393.55,127.10 L393.02,128.10 L392.46,129.10 L391.87,130.10 L391.29,131.10 L390.75,132.10 L390.23,133.10 L389.72,134.10 L389.23,135.10 L388.74,136.10 L388.25,137.10 L387.75,138.10 L387.23,139.10 L386.69,140.10 L386.16,141.10 L385.65,142.10 L385.17,143.10 L384.76,144.10 L384.38,145.10 L384.02,146.10 L383.66,147.10 L383.32,148.10 L383.00,149.10 L382.71,150.10 L382.43,151.10 L382.19,152.10 L381.97,153.10 L381.78,154.10 L381.61,155.10 L381.45,156.10 L381.30,157.10 L381.15,158.10 L381.02,159.10 L380.90,160.10 L380.79,161.10 L380.71,162.10 L380.64,163.10 L380.60,164.10 L380.56,165.10 L380.54,166.10 L380.51,167.10 L380.49,168.10 L380.47,169.10 L380.46,170.10 L380.44,171.10 L380.43,172.10 L380.42,173.10 L380.40,174.10 L380.39,175.10 L380.38,176.10 L380.36,177.10 L380.34,178.10 L380.32,179.10 L380.30,180.10 L380.27,181.10 L380.23,182.10 L380.19,183.10 L380.15,184.10 L380.10,185.10 L380.05,186.10 L380.00,187.10 L379.95,188.10 L379.90,189.10 L379.85,190.10 L379.81,191.10 L379.77,192.10 L379.74,193.10 L379.72,194.10 L379.70,195.10 L379.70,196.10 L379.72,197.10 L379.77,198.10 L379.85,199.10 L379.95,200.10 L380.08,201.10 L380.21,202.10 L380.36,203.10 L380.52,204.10 L380.72,205.10 L380.99,206.10 L381.32,207.10 L381.69,208.10 L382.09,209.10 L382.51,210.10 L382.94,211.10 L383.40,212.10 L383.91,213.10 L384.46,214.10 L385.06,215.10 L385.69,216.10 L386.37,217.10 L387.16,218.10 L388.04,219.10 L388.93,220.10 L389.10,220.30 L410.50,220.30 L410.67,220.10 L411.56,219.10 L412.44,218.10 L413.23,217.10 L413.91,216.10 L414.54,215.10 L415.14,214.10 L415.69,213.10 L416.20,212.10 L416.66,211.10 L417.09,210.10 L417.51,209.10 L417.91,208.10 L418.28,207.10 L418.61,206.10 L418.88,205.10 L419.08,204.10 L419.24,203.10 L419.39,202.10 L419.52,201.10 L419.65,200.10 L419.75,199.10 L419.83,198.10 L419.88,197.10 L419.90,196.10 L419.90,195.10 L419.88,194.10 L419.86,193.10 L419.83,192.10 L419.79,191.10 L419.75,190.10 L419.70,189.10 L419.65,188.10 L419.60,187.10 L419.55,186.10 L419.50,185.10 L419.45,184.10 L419.41,183.10 L419.37,182.10 L419.33,181.10 L419.30,180.10 L419.28,179.10 L419.26,178.10 L419.24,177.10 L419.22,176.10 L419.21,175.10 L419.20,174.10 L419.18,173.10 L419.17,172.10 L419.16,171.10 L419.14,170.10 L419.13,169.10 L419.11,168.10 L419.09,167.10 L419.06,166.10 L419.04,165.10 L419.00,164.10 L418.96,163.10 L418.89,162.10 L418.81,161.10 L418.70,160.10 L418.58,159.10 L418.45,158.10 L418.30,157.10 L418.15,156.10 L417.99,155.10 L417.82,154.10 L417.63,153.10 L417.41,152.10 L417.17,151.10 L416.89,150.10 L416.60,149.10 L416.28,148.10 L415.94,147.10 L415.58,146.10 L415.22,145.10 L414.84,144.10 L414.43,143.10 L413.95,142.10 L413.44,141.10 L412.91,140.10 L412.37,139.10 L411.85,138.10 L411.35,137.10 L410.86,136.10 L410.37,135.10 L409.88,134.10 L409.37,133.10 L408.85,132.10 L408.31,131.10 L407.73,130.10 L407.14,129.10 L406.58,128.10 L406.05,127.10 L405.55,126.10 L405.06,125.10 L404.59,124.10 L404.18,123.10 L403.83,122.10 L403.55,121.10 L403.31,120.10 L403.10,119.10 L402.90,118.10 L402.72,117.10 L402.54,116.10 L402.36,115.10 L402.20,114.10 L402.05,113.10 L401.91,112.10 L401.79,111.10 L401.67,110.10 L401.56,109.10 L401.46,108.10 L401.37,107.10 L401.28,106.10 L401.21,105.10 L401.14,104.10 L401.07,103.10 L401.00,102.10 L400.93,101.10 L400.87,100.10 L400.82,99.10 L400.77,98.10 L400.73,97.10 L400.71,96.10 L400.70,95.10 L400.70,94.10 L400.71,93.10 L400.72,92.10 L400.73,91.10 L400.74,90.10 L400.76,89.10 L400.78,88.10 L400.80,87.10 L400.83,86.10 L400.85,85.10 L400.88,84.10 L400.91,83.10 L400.94,82.10 L400.97,81.10 L401.00,80.10 L401.03,79.10 L401.07,78.10 L401.11,77.10 L401.16,76.10 L401.22,75.10 L401.27,74.10 L401.33,73.10 L401.40,72.10 L401.46,71.10 L401.52,70.10 L401.58,69.10 L401.64,68.10 L401.70,67.10 L401.75,66.10 L401.80,65.10 L401.84,64.10 L401.88,63.10 L401.92,62.10 L401.96,61.10 L402.00,60.10 L402.04,59.10 L402.07,58.10 L402.11,57.10 L402.15,56.10 L402.18,55.10 L402.22,54.10 L402.25,53.10 L402.29,52.10 L402.33,51.10 L402.36,50.10 L402.40,49.10 Z" fill="rgba(255,255,255,0.7)" stroke="#000" stroke-width="1.1" stroke-dasharray="1.1 3.5" stroke-linecap="round" stroke-linejoin="round"/>
<path d="M408.30,61.20 L408.07,62.20 L407.83,63.20 L407.59,64.20 L407.40,65.20 L407.28,66.20 L407.19,67.20 L407.11,68.20 L407.04,69.20 L406.98,70.20 L406.93,71.20 L406.88,72.20 L406.84,73.20 L406.82,74.20 L406.80,75.20 L406.78,76.20 L406.77,77.20 L406.76,78.20 L406.75,79.20 L406.74,80.20 L406.73,81.20 L406.72,82.20 L406.71,83.20 L406.71,84.20 L406.70,85.20 L406.70,86.20 L406.69,87.20 L406.69,88.20 L406.68,89.20 L406.68,90.20 L406.67,91.20 L406.67,92.20 L406.66,93.20 L406.66,94.20 L406.65,95.20 L406.64,96.20 L406.63,97.20 L406.62,98.20 L406.61,99.20 L406.60,100.20 L406.58,101.20 L406.57,102.20 L406.55,103.20 L406.54,104.20 L406.52,105.20 L406.50,106.20 L406.47,107.20 L406.45,108.20 L406.42,109.20 L406.40,110.20 L406.37,111.20 L406.34,112.20 L406.30,113.20 L406.26,114.20 L406.23,115.20 L406.18,116.20 L406.14,117.20 L406.09,118.20 L406.04,119.20 L405.99,120.20 L405.91,121.20 L405.81,122.20 L405.67,123.20 L405.52,124.20 L405.35,125.20 L405.16,126.20 L404.96,127.20 L404.76,128.20 L404.56,129.20 L404.35,130.20 L404.15,131.20 L403.96,132.20 L403.77,133.20 L403.58,134.20 L403.39,135.20 L403.19,136.20 L402.99,137.20 L402.78,138.20 L402.57,139.20 L402.36,140.20 L402.14,141.20 L401.91,142.20 L401.68,143.20 L401.44,144.20 L401.20,145.20 L400.95,146.20 L400.68,147.20 L400.39,148.20 L400.09,149.20 L399.78,150.20 L399.46,151.20 L399.14,152.20 L398.82,153.20 L398.51,154.20 L398.22,155.20 L397.95,156.20 L397.68,157.20 L397.40,158.20 L397.13,159.20 L396.86,160.20 L396.60,161.20 L396.34,162.20 L396.10,163.20 L395.86,164.20 L395.64,165.20 L395.43,166.20 L395.24,167.20 L395.07,168.20 L394.90,169.20 L394.73,170.20 L394.55,171.20 L394.38,172.20 L394.22,173.20 L394.07,174.20 L393.94,175.20 L393.82,176.20 L393.72,177.20 L393.65,178.20 L393.61,179.20 L393.60,180.20 L393.61,181.20 L393.62,182.20 L393.64,183.20 L393.66,184.20 L393.69,185.20 L393.73,186.20 L393.77,187.20 L393.81,188.20 L393.89,189.20 L394.00,190.20 L394.15,191.20 L394.33,192.20 L394.52,193.20 L394.73,194.20 L394.93,195.20 L395.14,196.20 L395.37,197.20 L395.62,198.20 L395.89,199.20 L396.18,200.20 L396.48,201.20 L396.78,202.20 L397.08,203.20 L397.37,204.20 L397.66,205.20 L397.93,206.20 L398.21,207.20 L398.48,208.20 L398.76,209.20 L399.04,210.20 L399.31,211.20 L399.59,212.20 L399.87,213.20 L400.16,214.20 L400.45,215.20 L400.75,216.20 L401.05,217.20 L401.35,218.20 L401.65,219.20 L401.93,220.20 L402.20,221.20 L402.44,222.20 L402.67,223.20 L402.89,224.20 L403.00,224.70 L421.20,224.70 L421.31,224.20 L421.53,223.20 L421.76,222.20 L422.00,221.20 L422.27,220.20 L422.55,219.20 L422.85,218.20 L423.15,217.20 L423.45,216.20 L423.75,215.20 L424.04,214.20 L424.33,213.20 L424.61,212.20 L424.89,211.20 L425.16,210.20 L425.44,209.20 L425.72,208.20 L425.99,207.20 L426.27,206.20 L426.54,205.20 L426.83,204.20 L427.12,203.20 L427.42,202.20 L427.72,201.20 L428.02,200.20 L428.31,199.20 L428.58,198.20 L428.83,197.20 L429.06,196.20 L429.27,195.20 L429.47,194.20 L429.68,193.20 L429.87,192.20 L430.05,191.20 L430.20,190.20 L430.31,189.20 L430.39,188.20 L430.43,187.20 L430.47,186.20 L430.51,185.20 L430.54,184.20 L430.56,183.20 L430.58,182.20 L430.59,181.20 L430.60,180.20 L430.59,179.20 L430.55,178.20 L430.48,177.20 L430.38,176.20 L430.26,175.20 L430.13,174.20 L429.98,173.20 L429.82,172.20 L429.65,171.20 L429.47,170.20 L429.30,169.20 L429.13,168.20 L428.96,167.20 L428.77,166.20 L428.56,165.20 L428.34,164.20 L428.10,163.20 L427.86,162.20 L427.60,161.20 L427.34,160.20 L427.07,159.20 L426.80,158.20 L426.52,157.20 L426.25,156.20 L425.98,155.20 L425.69,154.20 L425.38,153.20 L425.06,152.20 L424.74,151.20 L424.42,150.20 L424.11,149.20 L423.81,148.20 L423.52,147.20 L423.25,146.20 L423.00,145.20 L422.76,144.20 L422.52,143.20 L422.29,142.20 L422.06,141.20 L421.84,140.20 L421.63,139.20 L421.42,138.20 L421.21,137.20 L421.01,136.20 L420.81,135.20 L420.62,134.20 L420.43,133.20 L420.24,132.20 L420.05,131.20 L419.85,130.20 L419.64,129.20 L419.44,128.20 L419.24,127.20 L419.04,126.20 L418.85,125.20 L418.68,124.20 L418.53,123.20 L418.39,122.20 L418.29,121.20 L418.21,120.20 L418.16,119.20 L418.11,118.20 L418.06,117.20 L418.02,116.20 L417.97,115.20 L417.94,114.20 L417.90,113.20 L417.86,112.20 L417.83,111.20 L417.80,110.20 L417.78,109.20 L417.75,108.20 L417.73,107.20 L417.70,106.20 L417.68,105.20 L417.66,104.20 L417.65,103.20 L417.63,102.20 L417.62,101.20 L417.60,100.20 L417.59,99.20 L417.58,98.20 L417.57,97.20 L417.56,96.20 L417.55,95.20 L417.54,94.20 L417.54,93.20 L417.53,92.20 L417.53,91.20 L417.52,90.20 L417.52,89.20 L417.51,88.20 L417.51,87.20 L417.50,86.20 L417.50,85.20 L417.49,84.20 L417.49,83.20 L417.48,82.20 L417.47,81.20 L417.46,80.20 L417.45,79.20 L417.44,78.20 L417.43,77.20 L417.42,76.20 L417.40,75.20 L417.38,74.20 L417.36,73.20 L417.32,72.20 L417.27,71.20 L417.22,70.20 L417.16,69.20 L417.09,68.20 L417.01,67.20 L416.92,66.20 L416.80,65.20 L416.61,64.20 L416.37,63.20 L416.13,62.20 L415.90,61.20 Z" fill="rgba(128,128,128,0.7)" stroke="#111" stroke-width="1" stroke-dasharray="4 4" stroke-linecap="round" stroke-linejoin="round"/>
<path d="M510.20,39.60 L510.23,40.60 L510.25,41.60 L510.28,42.60 L510.30,43.60 L510.33,44.60 L510.35,45.60 L510.38,46.60 L510.40,47.60 L510.43,48.60 L510.46,49.60 L510.48,50.60 L510.51,51.60 L510.53,52.60 L510.56,53.60 L510.59,54.60 L510.62,55.60 L510.65,56.60 L510.68,57.60 L510.72,58.60 L510.76,59.60 L510.80,60.60 L510.84,61.60 L510.88,62.60 L510.91,63.60 L510.95,64.60 L510.99,65.60 L511.03,66.60 L511.06,67.60 L511.09,68.60 L511.12,69.60 L511.15,70.60 L511.17,71.60 L511.18,72.60 L511.19,73.60 L511.20,74.60 L511.20,75.60 L511.19,76.60 L511.18,77.60 L511.17,78.60 L511.15,79.60 L511.13,80.60 L511.10,81.60 L511.07,82.60 L511.04,83.60 L511.01,84.60 L510.98,85.60 L510.95,86.60 L510.91,87.60 L510.88,88.60 L510.84,89.60 L510.80,90.60 L510.75,91.60 L510.69,92.60 L510.64,93.60 L510.57,94.60 L510.51,95.60 L510.44,96.60 L510.37,97.60 L510.30,98.60 L510.23,99.60 L510.15,100.60 L510.07,101.60 L509.99,102.60 L509.90,103.60 L509.80,104.60 L509.70,105.60 L509.60,106.60 L509.49,107.60 L509.37,108.60 L509.25,109.60 L509.12,110.60 L508.97,111.60 L508.80,112.60 L508.63,113.60 L508.46,114.60 L508.31,115.60 L508.15,116.60 L507.99,117.60 L507.83,118.60 L507.68,119.60 L507.52,120.60 L507.37,121.60 L507.21,122.60 L507.06,123.60 L506.90,124.60 L506.75,125.60 L506.60,126.60 L506.44,127.60 L506.29,128.60 L506.13,129.60 L505.98,130.60 L505.83,131.60 L505.67,132.60 L505.52,133.60 L505.36,134.60 L505.21,135.60 L505.05,136.60 L504.90,137.60 L504.74,138.60 L504.58,139.60 L504.43,140.60 L504.27,141.60 L504.12,142.60 L503.96,143.60 L503.81,144.60 L503.65,145.60 L503.49,146.60 L503.34,147.60 L503.18,148.60 L503.03,149.60 L502.88,150.60 L502.72,151.60 L502.57,152.60 L502.41,153.60 L502.26,154.60 L502.11,155.60 L501.95,156.60 L501.79,157.60 L501.63,158.60 L501.47,159.60 L501.31,160.60 L501.15,161.60 L500.99,162.60 L500.83,163.60 L500.67,164.60 L500.51,165.60 L500.35,166.60 L500.20,167.60 L500.05,168.60 L499.90,169.60 L499.76,170.60 L499.62,171.60 L499.49,172.60 L499.37,173.60 L499.25,174.60 L499.13,175.60 L499.01,176.60 L498.89,177.60 L498.76,178.60 L498.63,179.60 L498.51,180.60 L498.39,181.60 L498.28,182.60 L498.17,183.60 L498.07,184.60 L497.99,185.60 L497.92,186.60 L497.86,187.60 L497.82,188.60 L497.80,189.60 L497.80,190.60 L497.80,191.60 L497.81,192.60 L497.82,193.60 L497.83,194.60 L497.84,195.60 L497.85,196.60 L497.87,197.60 L497.89,198.60 L497.91,199.60 L497.93,200.60 L497.95,201.60 L497.98,202.60 L498.00,203.60 L498.03,204.60 L498.06,205.60 L498.09,206.60 L498.12,207.60 L498.15,208.60 L498.19,209.60 L498.22,210.60 L498.27,211.60 L498.32,212.60 L498.38,213.60 L498.46,214.60 L498.54,215.60 L498.62,216.60 L498.72,217.60 L498.82,218.60 L498.92,219.60 L499.03,220.60 L499.15,221.60 L499.27,222.60 L499.39,223.60 L499.51,224.60 L499.64,225.60 L499.77,226.60 L499.89,227.60 L500.02,228.60 L500.15,229.60 L500.28,230.60 L500.41,231.60 L500.56,232.60 L500.71,233.60 L500.87,234.60 L501.04,235.60 L501.21,236.60 L501.39,237.60 L501.56,238.60 L501.74,239.60 L501.92,240.60 L502.10,241.60 L502.28,242.60 L502.46,243.60 L502.63,244.60 L502.80,245.60 L502.98,246.60 L503.16,247.60 L503.34,248.60 L503.53,249.60 L503.72,250.60 L503.91,251.60 L504.10,252.60 L504.28,253.60 L504.47,254.60 L504.66,255.60 L504.84,256.60 L505.03,257.60 L505.20,258.60 L505.38,259.60 L505.54,260.60 L505.71,261.60 L505.86,262.60 L506.01,263.60 L506.15,264.60 L506.28,265.60 L506.41,266.60 L506.54,267.60 L506.66,268.60 L506.78,269.60 L506.91,270.60 L507.03,271.60 L507.14,272.60 L507.25,273.60 L507.37,274.60 L507.47,275.60 L507.58,276.60 L507.68,277.60 L507.77,278.60 L507.87,279.60 L507.96,280.60 L508.04,281.60 L508.12,282.60 L508.20,283.60 L508.27,284.60 L508.34,285.60 L508.41,286.60 L508.48,287.60 L508.55,288.60 L508.62,289.60 L508.69,290.60 L508.76,291.60 L508.82,292.60 L508.88,293.60 L508.95,294.60 L509.00,295.60 L509.06,296.60 L509.11,297.60 L509.15,298.60 L509.19,299.60 L509.23,300.60 L509.26,301.60 L509.28,302.60 L509.29,303.60 L509.30,304.60 L509.30,305.60 L509.28,306.60 L509.25,307.60 L509.21,308.60 L509.20,309.10 L515.20,309.10 L515.19,308.60 L515.15,307.60 L515.12,306.60 L515.10,305.60 L515.10,304.60 L515.11,303.60 L515.12,302.60 L515.14,301.60 L515.17,300.60 L515.21,299.60 L515.25,298.60 L515.29,297.60 L515.34,296.60 L515.40,295.60 L515.45,294.60 L515.52,293.60 L515.58,292.60 L515.64,291.60 L515.71,290.60 L515.78,289.60 L515.85,288.60 L515.92,287.60 L515.99,286.60 L516.06,285.60 L516.13,284.60 L516.20,283.60 L516.28,282.60 L516.36,281.60 L516.44,280.60 L516.53,279.60 L516.63,278.60 L516.72,277.60 L516.82,276.60 L516.93,275.60 L517.03,274.60 L517.15,273.60 L517.26,272.60 L517.37,271.60 L517.49,270.60 L517.62,269.60 L517.74,268.60 L517.86,267.60 L517.99,266.60 L518.12,265.60 L518.25,264.60 L518.39,263.60 L518.54,262.60 L518.69,261.60 L518.86,260.60 L519.02,259.60 L519.20,258.60 L519.37,257.60 L519.56,256.60 L519.74,255.60 L519.93,254.60 L520.12,253.60 L520.30,252.60 L520.49,251.60 L520.68,250.60 L520.87,249.60 L521.06,248.60 L521.24,247.60 L521.42,246.60 L521.60,245.60 L521.77,244.60 L521.94,243.60 L522.12,242.60 L522.30,241.60 L522.48,240.60 L522.66,239.60 L522.84,238.60 L523.01,237.60 L523.19,236.60 L523.36,235.60 L523.53,234.60 L523.69,233.60 L523.84,232.60 L523.99,231.60 L524.12,230.60 L524.25,229.60 L524.38,228.60 L524.51,227.60 L524.63,226.60 L524.76,225.60 L524.89,224.60 L525.01,223.60 L525.13,222.60 L525.25,221.60 L525.37,220.60 L525.48,219.60 L525.58,218.60 L525.68,217.60 L525.78,216.60 L525.86,215.60 L525.94,214.60 L526.02,213.60 L526.08,212.60 L526.13,211.60 L526.18,210.60 L526.21,209.60 L526.25,208.60 L526.28,207.60 L526.31,206.60 L526.34,205.60 L526.37,204.60 L526.40,203.60 L526.42,202.60 L526.45,201.60 L526.47,200.60 L526.49,199.60 L526.51,198.60 L526.53,197.60 L526.55,196.60 L526.56,195.60 L526.57,194.60 L526.58,193.60 L526.59,192.60 L526.60,191.60 L526.60,190.60 L526.60,189.60 L526.58,188.60 L526.54,187.60 L526.48,186.60 L526.41,185.60 L526.33,184.60 L526.23,183.60 L526.12,182.60 L526.01,181.60 L525.89,180.60 L525.77,179.60 L525.64,178.60 L525.51,177.60 L525.39,176.60 L525.27,175.60 L525.15,174.60 L525.03,173.60 L524.91,172.60 L524.78,171.60 L524.64,170.60 L524.50,169.60 L524.35,168.60 L524.20,167.60 L524.05,166.60 L523.89,165.60 L523.73,164.60 L523.57,163.60 L523.41,162.60 L523.25,161.60 L523.09,160.60 L522.93,159.60 L522.77,158.60 L522.61,157.60 L522.45,156.60 L522.29,155.60 L522.14,154.60 L521.99,153.60 L521.83,152.60 L521.68,151.60 L521.52,150.60 L521.37,149.60 L521.22,148.60 L521.06,147.60 L520.91,146.60 L520.75,145.60 L520.59,144.60 L520.44,143.60 L520.28,142.60 L520.13,141.60 L519.97,140.60 L519.82,139.60 L519.66,138.60 L519.50,137.60 L519.35,136.60 L519.19,135.60 L519.04,134.60 L518.88,133.60 L518.73,132.60 L518.57,131.60 L518.42,130.60 L518.27,129.60 L518.11,128.60 L517.96,127.60 L517.80,126.60 L517.65,125.60 L517.50,124.60 L517.34,123.60 L517.19,122.60 L517.03,121.60 L516.88,120.60 L516.72,119.60 L516.57,118.60 L516.41,117.60 L516.25,116.60 L516.09,115.60 L515.94,114.60 L515.77,113.60 L515.60,112.60 L515.43,111.60 L515.28,110.60 L515.15,109.60 L515.03,108.60 L514.91,107.60 L514.80,106.60 L514.70,105.60 L514.60,104.60 L514.50,103.60 L514.41,102.60 L514.33,101.60 L514.25,100.60 L514.17,99.60 L514.10,98.60 L514.03,97.60 L513.96,96.60 L513.89,95.60 L513.83,94.60 L513.76,93.60 L513.71,92.60 L513.65,91.60 L513.60,90.60 L513.56,89.60 L513.52,88.60 L513.49,87.60 L513.45,86.60 L513.42,85.60 L513.39,84.60 L513.36,83.60 L513.33,82.60 L513.30,81.60 L513.27,80.60 L513.25,79.60 L513.23,78.60 L513.22,77.60 L513.21,76.60 L513.20,75.60 L513.20,74.60 L513.21,73.60 L513.22,72.60 L513.23,71.60 L513.25,70.60 L513.28,69.60 L513.31,68.60 L513.34,67.60 L513.37,66.60 L513.41,65.60 L513.45,64.60 L513.49,63.60 L513.52,62.60 L513.56,61.60 L513.60,60.60 L513.64,59.60 L513.68,58.60 L513.72,57.60 L513.75,56.60 L513.78,55.60 L513.81,54.60 L513.84,53.60 L513.87,52.60 L513.89,51.60 L513.92,50.60 L513.94,49.60 L513.97,48.60 L514.00,47.60 L514.02,46.60 L514.05,45.60 L514.07,44.60 L514.10,43.60 L514.12,42.60 L514.15,41.60 L514.17,40.60 L514.20,39.60 Z" fill="rgba(0,0,0,0.7)" stroke="#1a1a1a" stroke-width="0.6" stroke-linejoin="round"/>
<path d="M521.30,118.10 L520.37,119.10 L519.45,120.10 L518.86,121.10 L518.57,122.10 L518.35,123.10 L518.17,124.10 L517.98,125.10 L517.77,126.10 L517.57,127.10 L517.37,128.10 L517.17,129.10 L516.98,130.10 L516.78,131.10 L516.58,132.10 L516.39,133.10 L516.19,134.10 L516.00,135.10 L515.81,136.10 L515.64,137.10 L515.48,138.10 L515.34,139.10 L515.20,140.10 L515.07,141.10 L514.94,142.10 L514.82,143.10 L514.70,144.10 L514.58,145.10 L514.47,146.10 L514.35,147.10 L514.23,148.10 L514.11,149.10 L513.99,150.10 L513.85,151.10 L513.71,152.10 L513.57,153.10 L513.42,154.10 L513.27,155.10 L513.13,156.10 L513.00,157.10 L512.88,158.10 L512.78,159.10 L512.69,160.10 L512.61,161.10 L512.54,162.10 L512.46,163.10 L512.38,164.10 L512.31,165.10 L512.24,166.10 L512.18,167.10 L512.12,168.10 L512.06,169.10 L512.02,170.10 L511.98,171.10 L511.94,172.10 L511.92,173.10 L511.90,174.10 L511.90,175.10 L511.90,176.10 L511.92,177.10 L511.93,178.10 L511.95,179.10 L511.98,180.10 L512.01,181.10 L512.05,182.10 L512.09,183.10 L512.13,184.10 L512.17,185.10 L512.22,186.10 L512.27,187.10 L512.31,188.10 L512.36,189.10 L512.40,190.10 L512.45,191.10 L512.51,192.10 L512.57,193.10 L512.64,194.10 L512.71,195.10 L512.79,196.10 L512.87,197.10 L512.95,198.10 L513.04,199.10 L513.12,200.10 L513.21,201.10 L513.29,202.10 L513.38,203.10 L513.47,204.10 L513.55,205.10 L513.63,206.10 L513.70,207.10 L513.78,208.10 L513.84,209.10 L513.91,210.10 L513.97,211.10 L514.03,212.10 L514.08,213.10 L514.14,214.10 L514.20,215.10 L514.26,216.10 L514.31,217.10 L514.37,218.10 L514.42,219.10 L514.47,220.10 L514.52,221.10 L514.57,222.10 L514.62,223.10 L514.67,224.10 L514.71,225.10 L514.75,226.10 L514.79,227.10 L514.83,228.10 L514.87,229.10 L514.90,230.10 L514.93,231.10 L514.96,232.10 L514.99,233.10 L515.02,234.10 L515.04,235.10 L515.06,236.10 L515.08,237.10 L515.10,238.10 L515.12,239.10 L515.14,240.10 L515.16,241.10 L515.18,242.10 L515.20,243.10 L515.23,244.10 L515.25,245.10 L515.28,246.10 L515.30,247.10 L515.33,248.10 L515.37,249.10 L515.40,250.10 L515.45,251.10 L515.50,252.10 L515.55,253.10 L515.61,254.10 L515.68,255.10 L515.75,256.10 L515.83,257.10 L515.90,258.10 L515.98,259.10 L516.06,260.10 L516.13,261.10 L516.21,262.10 L516.28,263.10 L516.34,264.10 L516.41,265.10 L516.46,266.10 L516.52,267.10 L516.58,268.10 L516.63,269.10 L516.69,270.10 L516.74,271.10 L516.79,272.10 L516.80,272.20 L533.00,272.20 L533.01,272.10 L533.06,271.10 L533.11,270.10 L533.17,269.10 L533.22,268.10 L533.28,267.10 L533.34,266.10 L533.39,265.10 L533.46,264.10 L533.52,263.10 L533.59,262.10 L533.67,261.10 L533.74,260.10 L533.82,259.10 L533.90,258.10 L533.97,257.10 L534.05,256.10 L534.12,255.10 L534.19,254.10 L534.25,253.10 L534.30,252.10 L534.35,251.10 L534.40,250.10 L534.43,249.10 L534.47,248.10 L534.50,247.10 L534.52,246.10 L534.55,245.10 L534.57,244.10 L534.60,243.10 L534.62,242.10 L534.64,241.10 L534.66,240.10 L534.68,239.10 L534.70,238.10 L534.72,237.10 L534.74,236.10 L534.76,235.10 L534.78,234.10 L534.81,233.10 L534.84,232.10 L534.87,231.10 L534.90,230.10 L534.93,229.10 L534.97,228.10 L535.01,227.10 L535.05,226.10 L535.09,225.10 L535.13,224.10 L535.18,223.10 L535.23,222.10 L535.28,221.10 L535.33,220.10 L535.38,219.10 L535.43,218.10 L535.49,217.10 L535.54,216.10 L535.60,215.10 L535.66,214.10 L535.72,213.10 L535.77,212.10 L535.83,211.10 L535.89,210.10 L535.96,209.10 L536.02,208.10 L536.10,207.10 L536.17,206.10 L536.25,205.10 L536.33,204.10 L536.42,203.10 L536.51,202.10 L536.59,201.10 L536.68,200.10 L536.76,199.10 L536.85,198.10 L536.93,197.10 L537.01,196.10 L537.09,195.10 L537.16,194.10 L537.23,193.10 L537.29,192.10 L537.35,191.10 L537.40,190.10 L537.44,189.10 L537.49,188.10 L537.53,187.10 L537.58,186.10 L537.63,185.10 L537.67,184.10 L537.71,183.10 L537.75,182.10 L537.79,181.10 L537.82,180.10 L537.85,179.10 L537.87,178.10 L537.88,177.10 L537.90,176.10 L537.90,175.10 L537.90,174.10 L537.88,173.10 L537.86,172.10 L537.82,171.10 L537.78,170.10 L537.74,169.10 L537.68,168.10 L537.62,167.10 L537.56,166.10 L537.49,165.10 L537.42,164.10 L537.34,163.10 L537.26,162.10 L537.19,161.10 L537.11,160.10 L537.02,159.10 L536.92,158.10 L536.80,157.10 L536.67,156.10 L536.53,155.10 L536.38,154.10 L536.23,153.10 L536.09,152.10 L535.95,151.10 L535.81,150.10 L535.69,149.10 L535.57,148.10 L535.45,147.10 L535.33,146.10 L535.22,145.10 L535.10,144.10 L534.98,143.10 L534.86,142.10 L534.73,141.10 L534.60,140.10 L534.46,139.10 L534.32,138.10 L534.16,137.10 L533.99,136.10 L533.80,135.10 L533.61,134.10 L533.41,133.10 L533.22,132.10 L533.02,131.10 L532.82,130.10 L532.63,129.10 L532.43,128.10 L532.23,127.10 L532.03,126.10 L531.82,125.10 L531.63,124.10 L531.45,123.10 L531.23,122.10 L530.94,121.10 L530.35,120.10 L529.43,119.10 L528.50,118.10 Z" fill="rgba(255,255,255,0.7)" stroke="#000" stroke-width="1.1" stroke-dasharray="1.1 3.5" stroke-linecap="round" stroke-linejoin="round"/>
<path d="M534.90,103.50 L534.84,104.50 L534.79,105.50 L534.74,106.50 L534.68,107.50 L534.62,108.50 L534.54,109.50 L534.45,110.50 L534.33,111.50 L534.18,112.50 L534.01,113.50 L533.82,114.50 L533.62,115.50 L533.42,116.50 L533.21,117.50 L533.00,118.50 L532.80,119.50 L532.60,120.50 L532.41,121.50 L532.22,122.50 L532.02,123.50 L531.82,124.50 L531.62,125.50 L531.42,126.50 L531.21,127.50 L531.01,128.50 L530.80,129.50 L530.60,130.50 L530.39,131.50 L530.18,132.50 L529.97,133.50 L529.76,134.50 L529.54,135.50 L529.33,136.50 L529.12,137.50 L528.91,138.50 L528.70,139.50 L528.50,140.50 L528.29,141.50 L528.09,142.50 L527.88,143.50 L527.68,144.50 L527.48,145.50 L527.28,146.50 L527.08,147.50 L526.89,148.50 L526.70,149.50 L526.51,150.50 L526.32,151.50 L526.13,152.50 L525.94,153.50 L525.76,154.50 L525.58,155.50 L525.40,156.50 L525.22,157.50 L525.05,158.50 L524.88,159.50 L524.72,160.50 L524.55,161.50 L524.38,162.50 L524.21,163.50 L524.04,164.50 L523.87,165.50 L523.70,166.50 L523.54,167.50 L523.38,168.50 L523.24,169.50 L523.09,170.50 L522.96,171.50 L522.84,172.50 L522.73,173.50 L522.64,174.50 L522.56,175.50 L522.48,176.50 L522.40,177.50 L522.33,178.50 L522.25,179.50 L522.18,180.50 L522.12,181.50 L522.05,182.50 L522.00,183.50 L521.94,184.50 L521.90,185.50 L521.86,186.50 L521.83,187.50 L521.81,188.50 L521.80,189.50 L521.80,190.50 L521.82,191.50 L521.86,192.50 L521.91,193.50 L521.97,194.50 L522.05,195.50 L522.14,196.50 L522.24,197.50 L522.35,198.50 L522.47,199.50 L522.59,200.50 L522.72,201.50 L522.85,202.50 L522.99,203.50 L523.12,204.50 L523.25,205.50 L523.38,206.50 L523.51,207.50 L523.63,208.50 L523.75,209.50 L523.85,210.50 L523.96,211.50 L524.08,212.50 L524.19,213.50 L524.31,214.50 L524.43,215.50 L524.56,216.50 L524.68,217.50 L524.80,218.50 L524.92,219.50 L525.05,220.50 L525.17,221.50 L525.29,222.50 L525.41,223.50 L525.52,224.50 L525.64,225.50 L525.75,226.50 L525.85,227.50 L525.95,228.50 L526.05,229.50 L526.15,230.50 L526.24,231.50 L526.32,232.50 L526.41,233.50 L526.49,234.50 L526.57,235.50 L526.65,236.50 L526.73,237.50 L526.81,238.50 L526.88,239.50 L526.96,240.50 L527.03,241.50 L527.10,242.50 L527.18,243.50 L527.25,244.50 L527.32,245.50 L527.40,246.50 L527.47,247.50 L527.55,248.50 L527.62,249.50 L527.70,250.50 L547.10,250.50 L547.18,249.50 L547.25,248.50 L547.33,247.50 L547.40,246.50 L547.48,245.50 L547.55,244.50 L547.62,243.50 L547.70,242.50 L547.77,241.50 L547.84,240.50 L547.92,239.50 L547.99,238.50 L548.07,237.50 L548.15,236.50 L548.23,235.50 L548.31,234.50 L548.39,233.50 L548.48,232.50 L548.56,231.50 L548.65,230.50 L548.75,229.50 L548.85,228.50 L548.95,227.50 L549.05,226.50 L549.16,225.50 L549.28,224.50 L549.39,223.50 L549.51,222.50 L549.63,221.50 L549.75,220.50 L549.88,219.50 L550.00,218.50 L550.12,217.50 L550.24,216.50 L550.37,215.50 L550.49,214.50 L550.61,213.50 L550.72,212.50 L550.84,211.50 L550.95,210.50 L551.05,209.50 L551.17,208.50 L551.29,207.50 L551.42,206.50 L551.55,205.50 L551.68,204.50 L551.81,203.50 L551.95,202.50 L552.08,201.50 L552.21,200.50 L552.33,199.50 L552.45,198.50 L552.56,197.50 L552.66,196.50 L552.75,195.50 L552.83,194.50 L552.89,193.50 L552.94,192.50 L552.98,191.50 L553.00,190.50 L553.00,189.50 L552.99,188.50 L552.97,187.50 L552.94,186.50 L552.90,185.50 L552.86,184.50 L552.80,183.50 L552.75,182.50 L552.68,181.50 L552.62,180.50 L552.55,179.50 L552.47,178.50 L552.40,177.50 L552.32,176.50 L552.24,175.50 L552.16,174.50 L552.07,173.50 L551.96,172.50 L551.84,171.50 L551.71,170.50 L551.56,169.50 L551.42,168.50 L551.26,167.50 L551.10,166.50 L550.93,165.50 L550.76,164.50 L550.59,163.50 L550.42,162.50 L550.25,161.50 L550.08,160.50 L549.92,159.50 L549.75,158.50 L549.58,157.50 L549.40,156.50 L549.22,155.50 L549.04,154.50 L548.86,153.50 L548.67,152.50 L548.48,151.50 L548.29,150.50 L548.10,149.50 L547.91,148.50 L547.72,147.50 L547.52,146.50 L547.32,145.50 L547.12,144.50 L546.92,143.50 L546.71,142.50 L546.51,141.50 L546.30,140.50 L546.10,139.50 L545.89,138.50 L545.68,137.50 L545.47,136.50 L545.26,135.50 L545.04,134.50 L544.83,133.50 L544.62,132.50 L544.41,131.50 L544.20,130.50 L544.00,129.50 L543.79,128.50 L543.59,127.50 L543.38,126.50 L543.18,125.50 L542.98,124.50 L542.78,123.50 L542.58,122.50 L542.39,121.50 L542.20,120.50 L542.00,119.50 L541.80,118.50 L541.59,117.50 L541.38,116.50 L541.18,115.50 L540.98,114.50 L540.79,113.50 L540.62,112.50 L540.47,111.50 L540.35,110.50 L540.26,109.50 L540.18,108.50 L540.12,107.50 L540.06,106.50 L540.01,105.50 L539.96,104.50 L539.90,103.50 Z" fill="rgba(128,128,128,0.7)" stroke="#111" stroke-width="1" stroke-dasharray="4 4" stroke-linecap="round" stroke-linejoin="round"/>
<line x1="136.8" y1="214.2" x2="136.8" y2="261.0" stroke="rgba(0,0,0,0.78)" stroke-width="1.4"/>
<line x1="261.9" y1="142.2" x2="261.9" y2="193.1" stroke="rgba(0,0,0,0.78)" stroke-width="1.4"/>
<line x1="386.9" y1="148.2" x2="386.9" y2="195.1" stroke="rgba(0,0,0,0.78)" stroke-width="1.4"/>
<line x1="512.1" y1="165.6" x2="512.1" y2="216.8" stroke="rgba(0,0,0,0.78)" stroke-width="1.4"/>
<line x1="149.4" y1="198.0" x2="149.4" y2="248.5" stroke="#000" stroke-width="1.4"/>
<line x1="274.5" y1="155.3" x2="274.5" y2="204.5" stroke="#000" stroke-width="1.4"/>
<line x1="399.5" y1="159.0" x2="399.5" y2="200.8" stroke="#000" stroke-width="1.4"/>
<line x1="524.7" y1="182.3" x2="524.7" y2="227.8" stroke="#000" stroke-width="1.4"/>
<line x1="161.9" y1="192.4" x2="161.9" y2="249.0" stroke="rgba(0,0,0,0.78)" stroke-width="1.4"/>
<line x1="286.8" y1="136.4" x2="286.8" y2="190.6" stroke="rgba(0,0,0,0.78)" stroke-width="1.4"/>
<line x1="411.8" y1="141.4" x2="411.8" y2="196.9" stroke="rgba(0,0,0,0.78)" stroke-width="1.4"/>
<line x1="537.1" y1="171.4" x2="537.1" y2="219.2" stroke="rgba(0,0,0,0.78)" stroke-width="1.4"/>
<path d="M136.8,237.7 L261.9,167.7 L386.8,171.6 L512.1,190.6" fill="none" stroke="#000" stroke-width="1.4"/>
<path d="M149.4,222.3 L274.5,180.4 L399.5,179.6 L524.7,204.6" fill="none" stroke="#000" stroke-width="1.3" stroke-dasharray="1.2 3.4" stroke-linecap="round"/>
<path d="M161.9,221.9 L286.8,162.9 L411.9,169.0 L537.1,195.2" fill="none" stroke="#000" stroke-width="1.4" stroke-dasharray="3.8 3.4"/>
<circle cx="136.8" cy="237.7" r="2.0" fill="#000"/>
<circle cx="261.9" cy="167.7" r="2.0" fill="#000"/>
<circle cx="386.8" cy="171.6" r="2.0" fill="#000"/>
<circle cx="512.1" cy="190.6" r="2.0" fill="#000"/>
<path d="M149.4,218.72 L152.5,223.85 L146.3,223.85 Z" fill="#000"/>
<path d="M274.5,176.82 L277.6,181.95 L271.4,181.95 Z" fill="#000"/>
<path d="M399.5,176.02 L402.6,181.15 L396.4,181.15 Z" fill="#000"/>
<path d="M524.7,201.02 L527.8000000000001,206.15 L521.6,206.15 Z" fill="#000"/>
<rect x="159.9" y="219.9" width="4.0" height="4.0" fill="#000"/>
<rect x="284.8" y="160.9" width="4.0" height="4.0" fill="#000"/>
<rect x="409.9" y="167.0" width="4.0" height="4.0" fill="#000"/>
<rect x="535.1" y="193.2" width="4.0" height="4.0" fill="#000"/>
<text transform="translate(65.1,21.85) scale(0.95,1)" text-anchor="end" font-family="Liberation Serif" font-size="16.2" fill="#000">320</text>
<text transform="translate(65.1,84.63) scale(0.95,1)" text-anchor="end" font-family="Liberation Serif" font-size="16.2" fill="#000">300</text>
<text transform="translate(65.1,147.41) scale(0.95,1)" text-anchor="end" font-family="Liberation Serif" font-size="16.2" fill="#000">280</text>
<text transform="translate(65.1,210.19) scale(0.95,1)" text-anchor="end" font-family="Liberation Serif" font-size="16.2" fill="#000">260</text>
<text transform="translate(65.1,272.97) scale(0.95,1)" text-anchor="end" font-family="Liberation Serif" font-size="16.2" fill="#000">240</text>
<text transform="translate(65.1,335.75) scale(0.95,1)" text-anchor="end" font-family="Liberation Serif" font-size="16.2" fill="#000">220</text>
<text x="122.6" y="366.3" font-family="Liberation Serif" font-size="15.5" fill="#000">Phase 1</text>
<text x="250.0" y="366.3" font-family="Liberation Serif" font-size="15.5" fill="#000">Phase 2</text>
<text x="374.8" y="366.3" font-family="Liberation Serif" font-size="15.5" fill="#000">Phase 3</text>
<text x="500.0" y="366.3" font-family="Liberation Serif" font-size="15.5" fill="#000">Phase 4</text>
<text x="336.6" y="395" text-anchor="middle" font-family="Liberation Serif" class="b" font-weight="bold" font-size="17.8" fill="#000">Season evolution</text>
<text transform="translate(15.3,294.7) rotate(-90)" x="0" y="0" font-family="Liberation Serif" class="b" font-weight="bold" font-size="17.9" fill="#000">N&#186; sprints between 21-24 km/h<tspan dy="-7" font-size="12.5">-1</tspan></text>
<text x="600" y="145.5" font-family="Liberation Serif" class="b" font-weight="bold" font-size="15.6" fill="#000">Team performance levels</text>
<rect x="618.1" y="157.8" width="18.4" height="18.4" fill="#4d4d4d" stroke="#1a1a1a" stroke-width="0.6"/>
<line x1="619.9" y1="167.0" x2="634.7" y2="167.0" stroke="#000" stroke-width="1.4"/>
<circle cx="627.3000000000001" cy="167.0" r="2.0" fill="#000"/>
<text x="642.3" y="172.9" font-family="Liberation Serif" font-size="13.4" fill="#000">Low Performance</text>
<rect x="618.1" y="177.4" width="18.4" height="18.4" fill="#ffffff" stroke="#000" stroke-width="1.1" stroke-dasharray="1.1 3.5" stroke-linecap="round"/>
<line x1="619.9" y1="186.6" x2="634.7" y2="186.6" stroke="#000" stroke-width="1.3" stroke-dasharray="1.2 3.4" stroke-linecap="round"/>
<path d="M627.3000000000001,183.02 L630.4000000000001,188.15 L624.2,188.15 Z" fill="#000"/>
<text x="642.3" y="192.3" font-family="Liberation Serif" font-size="13.4" fill="#000">Medium Performance</text>
<rect x="618.1" y="197.0" width="18.4" height="18.4" fill="#a6a6a6" stroke="#111" stroke-width="1" stroke-dasharray="4 4" stroke-linecap="round"/>
<line x1="619.9" y1="206.2" x2="634.7" y2="206.2" stroke="#000" stroke-width="1.4" stroke-dasharray="3.8 3.4"/>
<rect x="625.3000000000001" y="204.2" width="4.0" height="4.0" fill="#000"/>
<text x="642.3" y="212.1" font-family="Liberation Serif" font-size="13.4" fill="#000">High Performance</text>
</svg>
</body></html>
